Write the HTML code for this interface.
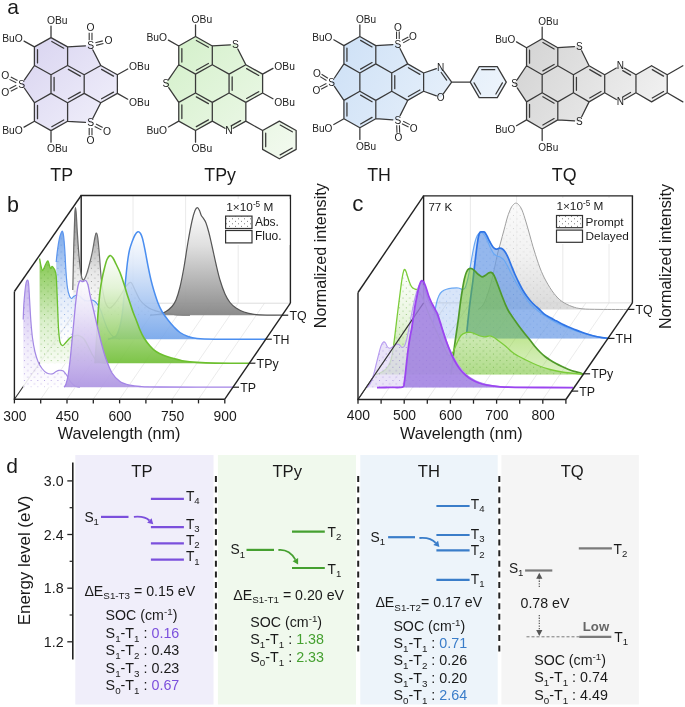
<!DOCTYPE html>
<html><head><meta charset="utf-8"><style>
html,body{margin:0;padding:0;background:#fff;}
svg{display:block;will-change:transform;}
text{font-family:"Liberation Sans", sans-serif;}
</style></head><body>
<svg width="685" height="707" viewBox="0 0 685 707">
<rect width="685" height="707" fill="#fff"/>
<defs>
<pattern id="dotsK" width="6.7" height="6.6" patternUnits="userSpaceOnUse"><circle cx="1" cy="1" r="0.5" fill="#555" fill-opacity="0.7"/><circle cx="4.35" cy="4.3" r="0.5" fill="#555" fill-opacity="0.7"/></pattern>
<pattern id="dotsB" width="6.7" height="6.6" patternUnits="userSpaceOnUse"><circle cx="1" cy="1" r="0.5" fill="#3a70d0" fill-opacity="0.7"/><circle cx="4.35" cy="4.3" r="0.5" fill="#3a70d0" fill-opacity="0.7"/></pattern>
<pattern id="dotsG" width="6.7" height="6.6" patternUnits="userSpaceOnUse"><circle cx="1" cy="1" r="0.5" fill="#4a9a20" fill-opacity="0.7"/><circle cx="4.35" cy="4.3" r="0.5" fill="#4a9a20" fill-opacity="0.7"/></pattern>
<pattern id="dotsP" width="6.7" height="6.6" patternUnits="userSpaceOnUse"><circle cx="1" cy="1" r="0.5" fill="#8060d0" fill-opacity="0.7"/><circle cx="4.35" cy="4.3" r="0.5" fill="#8060d0" fill-opacity="0.7"/></pattern>
<pattern id="dotsKL" width="6.7" height="6.6" patternUnits="userSpaceOnUse"><circle cx="1" cy="1" r="0.45" fill="#888" fill-opacity="0.6"/><circle cx="4.35" cy="4.3" r="0.45" fill="#888" fill-opacity="0.6"/></pattern>
<pattern id="dotsBL" width="6.7" height="6.6" patternUnits="userSpaceOnUse"><circle cx="1" cy="1" r="0.5" fill="#3a70d0" fill-opacity="0.35"/><circle cx="4.35" cy="4.3" r="0.5" fill="#3a70d0" fill-opacity="0.35"/></pattern>
<pattern id="dotsL" width="6" height="5" patternUnits="userSpaceOnUse"><circle cx="1.5" cy="1.2" r="0.5" fill="#555"/><circle cx="4.5" cy="3.7" r="0.5" fill="#555"/></pattern>
<linearGradient id="fK" x1="0" y1="0" x2="0" y2="1"><stop offset="0" stop-color="#ffffff"/><stop offset="0.35" stop-color="#dedede"/><stop offset="1" stop-color="#858585"/></linearGradient>
<linearGradient id="fB" x1="0" y1="0" x2="0" y2="1"><stop offset="0" stop-color="#ffffff"/><stop offset="0.3" stop-color="#dbe7f9"/><stop offset="1" stop-color="#6b9fe9"/></linearGradient>
<linearGradient id="fG" x1="0" y1="0" x2="0" y2="1"><stop offset="0" stop-color="#ffffff"/><stop offset="0.3" stop-color="#e0f2d2"/><stop offset="1" stop-color="#6fbe34"/></linearGradient>
<linearGradient id="fP" x1="0" y1="0" x2="0" y2="1"><stop offset="0" stop-color="#ffffff"/><stop offset="0.3" stop-color="#ebe4f8"/><stop offset="1" stop-color="#ae95e2"/></linearGradient>
<linearGradient id="aK" x1="0" y1="0" x2="0" y2="1"><stop offset="0" stop-color="#707070"/><stop offset="0.6" stop-color="#e6e6e6"/><stop offset="1" stop-color="#ffffff"/></linearGradient>
<linearGradient id="aB" x1="0" y1="0" x2="0" y2="1"><stop offset="0" stop-color="#6c9fe8"/><stop offset="0.6" stop-color="#dfe9f8"/><stop offset="1" stop-color="#ffffff"/></linearGradient>
<linearGradient id="aG" x1="0" y1="0" x2="0" y2="1"><stop offset="0" stop-color="#7cc444"/><stop offset="0.6" stop-color="#d8eec8"/><stop offset="1" stop-color="#f8fcf4"/></linearGradient>
<linearGradient id="aP" x1="0" y1="0" x2="0" y2="1"><stop offset="0" stop-color="#c0acec"/><stop offset="0.6" stop-color="#eee8fa"/><stop offset="1" stop-color="#ffffff"/></linearGradient>
<linearGradient id="cK" x1="0" y1="0" x2="0" y2="1"><stop offset="0" stop-color="#fafafa"/><stop offset="0.5" stop-color="#eeeeee"/><stop offset="1" stop-color="#d0d0d0"/></linearGradient>
<linearGradient id="cGd" x1="0" y1="0" x2="0" y2="1"><stop offset="0" stop-color="#74c810" stop-opacity="0.5"/><stop offset="0.65" stop-color="#74c810" stop-opacity="0.45"/><stop offset="1" stop-color="#8ad040" stop-opacity="0.3"/></linearGradient>
<linearGradient id="cGp" x1="0" y1="0" x2="0" y2="1"><stop offset="0" stop-color="#ffffff"/><stop offset="0.5" stop-color="#e2f2d4"/><stop offset="1" stop-color="#a4d67a"/></linearGradient>
</defs>
<line x1="133.0" y1="195.5" x2="133.0" y2="303.2" stroke="#e4e4e4" stroke-width="0.8"/>
<line x1="185.6" y1="195.5" x2="185.6" y2="303.2" stroke="#e4e4e4" stroke-width="0.8"/>
<line x1="238.2" y1="195.5" x2="238.2" y2="303.2" stroke="#e4e4e4" stroke-width="0.8"/>
<line x1="40.7" y1="399.2" x2="106.7" y2="303.2" stroke="#e2e2e2" stroke-width="0.7"/>
<line x1="67.0" y1="399.2" x2="133.0" y2="303.2" stroke="#e2e2e2" stroke-width="0.7"/>
<line x1="93.3" y1="399.2" x2="159.3" y2="303.2" stroke="#e2e2e2" stroke-width="0.7"/>
<line x1="119.6" y1="399.2" x2="185.6" y2="303.2" stroke="#e2e2e2" stroke-width="0.7"/>
<line x1="145.9" y1="399.2" x2="211.9" y2="303.2" stroke="#e2e2e2" stroke-width="0.7"/>
<line x1="172.2" y1="399.2" x2="238.2" y2="303.2" stroke="#e2e2e2" stroke-width="0.7"/>
<line x1="198.5" y1="399.2" x2="264.5" y2="303.2" stroke="#e2e2e2" stroke-width="0.7"/>
<line x1="81.2" y1="303.2" x2="290.4" y2="303.2" stroke="#dddddd" stroke-width="1"/>
<line x1="81.2" y1="195.5" x2="81.2" y2="303.2" stroke="#222" stroke-width="1.4"/>
<line x1="14.4" y1="399.2" x2="81.2" y2="303.2" stroke="#333" stroke-width="1.1"/>
<path d="M72.80,290.00 C72.97,282.50 73.47,257.67 73.80,245.00 C74.13,232.33 74.52,220.23 74.80,214.00 C75.08,207.77 75.25,207.60 75.50,207.60 C75.75,207.60 76.00,209.93 76.30,214.00 C76.60,218.07 76.85,225.00 77.30,232.00 C77.75,239.00 78.38,249.00 79.00,256.00 C79.62,263.00 80.33,270.00 81.00,274.00 C81.67,278.00 82.33,279.33 83.00,280.00 C83.67,280.67 84.33,279.17 85.00,278.00 C85.67,276.83 86.17,275.67 87.00,273.00 C87.83,270.33 89.08,265.67 90.00,262.00 C90.92,258.33 91.67,255.17 92.50,251.00 C93.33,246.83 94.35,240.00 95.00,237.00 C95.65,234.00 95.93,232.83 96.40,233.00 C96.87,233.17 97.28,234.17 97.80,238.00 C98.32,241.83 98.97,249.67 99.50,256.00 C100.03,262.33 100.42,270.00 101.00,276.00 C101.58,282.00 102.17,287.33 103.00,292.00 C103.83,296.67 104.83,301.33 106.00,304.00 C107.17,306.67 108.33,308.33 110.00,308.00 C111.67,307.67 114.00,304.50 116.00,302.00 C118.00,299.50 120.17,295.83 122.00,293.00 C123.83,290.17 125.50,286.75 127.00,285.00 C128.50,283.25 129.67,281.67 131.00,282.50 C132.33,283.33 133.50,287.08 135.00,290.00 C136.50,292.92 138.17,297.33 140.00,300.00 C141.83,302.67 144.00,304.42 146.00,306.00 C148.00,307.58 149.33,308.42 152.00,309.50 C154.67,310.58 158.17,311.65 162.00,312.50 C165.83,313.35 170.33,314.15 175.00,314.60 C179.67,315.05 187.50,315.10 190.00,315.20 L190.00,315.20 L72.80,315.20 Z" fill="url(#aK)" fill-opacity="0.9" stroke="none"/><path d="M72.80,290.00 C72.97,282.50 73.47,257.67 73.80,245.00 C74.13,232.33 74.52,220.23 74.80,214.00 C75.08,207.77 75.25,207.60 75.50,207.60 C75.75,207.60 76.00,209.93 76.30,214.00 C76.60,218.07 76.85,225.00 77.30,232.00 C77.75,239.00 78.38,249.00 79.00,256.00 C79.62,263.00 80.33,270.00 81.00,274.00 C81.67,278.00 82.33,279.33 83.00,280.00 C83.67,280.67 84.33,279.17 85.00,278.00 C85.67,276.83 86.17,275.67 87.00,273.00 C87.83,270.33 89.08,265.67 90.00,262.00 C90.92,258.33 91.67,255.17 92.50,251.00 C93.33,246.83 94.35,240.00 95.00,237.00 C95.65,234.00 95.93,232.83 96.40,233.00 C96.87,233.17 97.28,234.17 97.80,238.00 C98.32,241.83 98.97,249.67 99.50,256.00 C100.03,262.33 100.42,270.00 101.00,276.00 C101.58,282.00 102.17,287.33 103.00,292.00 C103.83,296.67 104.83,301.33 106.00,304.00 C107.17,306.67 108.33,308.33 110.00,308.00 C111.67,307.67 114.00,304.50 116.00,302.00 C118.00,299.50 120.17,295.83 122.00,293.00 C123.83,290.17 125.50,286.75 127.00,285.00 C128.50,283.25 129.67,281.67 131.00,282.50 C132.33,283.33 133.50,287.08 135.00,290.00 C136.50,292.92 138.17,297.33 140.00,300.00 C141.83,302.67 144.00,304.42 146.00,306.00 C148.00,307.58 149.33,308.42 152.00,309.50 C154.67,310.58 158.17,311.65 162.00,312.50 C165.83,313.35 170.33,314.15 175.00,314.60 C179.67,315.05 187.50,315.10 190.00,315.20 L190.00,315.20 L72.80,315.20 Z" fill="url(#dotsK)" stroke="none"/><path d="M72.80,290.00 C72.97,282.50 73.47,257.67 73.80,245.00 C74.13,232.33 74.52,220.23 74.80,214.00 C75.08,207.77 75.25,207.60 75.50,207.60 C75.75,207.60 76.00,209.93 76.30,214.00 C76.60,218.07 76.85,225.00 77.30,232.00 C77.75,239.00 78.38,249.00 79.00,256.00 C79.62,263.00 80.33,270.00 81.00,274.00 C81.67,278.00 82.33,279.33 83.00,280.00 C83.67,280.67 84.33,279.17 85.00,278.00 C85.67,276.83 86.17,275.67 87.00,273.00 C87.83,270.33 89.08,265.67 90.00,262.00 C90.92,258.33 91.67,255.17 92.50,251.00 C93.33,246.83 94.35,240.00 95.00,237.00 C95.65,234.00 95.93,232.83 96.40,233.00 C96.87,233.17 97.28,234.17 97.80,238.00 C98.32,241.83 98.97,249.67 99.50,256.00 C100.03,262.33 100.42,270.00 101.00,276.00 C101.58,282.00 102.17,287.33 103.00,292.00 C103.83,296.67 104.83,301.33 106.00,304.00 C107.17,306.67 108.33,308.33 110.00,308.00 C111.67,307.67 114.00,304.50 116.00,302.00 C118.00,299.50 120.17,295.83 122.00,293.00 C123.83,290.17 125.50,286.75 127.00,285.00 C128.50,283.25 129.67,281.67 131.00,282.50 C132.33,283.33 133.50,287.08 135.00,290.00 C136.50,292.92 138.17,297.33 140.00,300.00 C141.83,302.67 144.00,304.42 146.00,306.00 C148.00,307.58 149.33,308.42 152.00,309.50 C154.67,310.58 158.17,311.65 162.00,312.50 C165.83,313.35 170.33,314.15 175.00,314.60 C179.67,315.05 187.50,315.10 190.00,315.20" fill="none" stroke="#6a6a6a" stroke-width="1.2" stroke-linejoin="round"/>
<path d="M150.00,315.20 C151.67,315.00 157.33,314.62 160.00,314.00 C162.67,313.38 164.00,312.75 166.00,311.50 C168.00,310.25 170.33,308.42 172.00,306.50 C173.67,304.58 174.67,303.25 176.00,300.00 C177.33,296.75 178.67,292.50 180.00,287.00 C181.33,281.50 182.67,274.50 184.00,267.00 C185.33,259.50 186.67,249.67 188.00,242.00 C189.33,234.33 190.83,226.25 192.00,221.00 C193.17,215.75 194.10,212.73 195.00,210.50 C195.90,208.27 196.65,207.60 197.40,207.60 C198.15,207.60 198.85,209.18 199.50,210.50 C200.15,211.82 200.63,214.17 201.30,215.50 C201.97,216.83 202.72,217.25 203.50,218.50 C204.28,219.75 205.08,220.58 206.00,223.00 C206.92,225.42 208.00,229.17 209.00,233.00 C210.00,236.83 210.83,240.83 212.00,246.00 C213.17,251.17 214.67,258.33 216.00,264.00 C217.33,269.67 218.50,275.00 220.00,280.00 C221.50,285.00 223.33,290.25 225.00,294.00 C226.67,297.75 228.17,300.17 230.00,302.50 C231.83,304.83 233.67,306.42 236.00,308.00 C238.33,309.58 241.00,310.95 244.00,312.00 C247.00,313.05 250.00,313.78 254.00,314.30 C258.00,314.82 263.17,314.95 268.00,315.10 C272.83,315.25 280.50,315.18 283.00,315.20 L283.00,315.20 L150.00,315.20 Z" fill="url(#fK)" fill-opacity="0.95" stroke="none"/><path d="M150.00,315.20 C151.67,315.00 157.33,314.62 160.00,314.00 C162.67,313.38 164.00,312.75 166.00,311.50 C168.00,310.25 170.33,308.42 172.00,306.50 C173.67,304.58 174.67,303.25 176.00,300.00 C177.33,296.75 178.67,292.50 180.00,287.00 C181.33,281.50 182.67,274.50 184.00,267.00 C185.33,259.50 186.67,249.67 188.00,242.00 C189.33,234.33 190.83,226.25 192.00,221.00 C193.17,215.75 194.10,212.73 195.00,210.50 C195.90,208.27 196.65,207.60 197.40,207.60 C198.15,207.60 198.85,209.18 199.50,210.50 C200.15,211.82 200.63,214.17 201.30,215.50 C201.97,216.83 202.72,217.25 203.50,218.50 C204.28,219.75 205.08,220.58 206.00,223.00 C206.92,225.42 208.00,229.17 209.00,233.00 C210.00,236.83 210.83,240.83 212.00,246.00 C213.17,251.17 214.67,258.33 216.00,264.00 C217.33,269.67 218.50,275.00 220.00,280.00 C221.50,285.00 223.33,290.25 225.00,294.00 C226.67,297.75 228.17,300.17 230.00,302.50 C231.83,304.83 233.67,306.42 236.00,308.00 C238.33,309.58 241.00,310.95 244.00,312.00 C247.00,313.05 250.00,313.78 254.00,314.30 C258.00,314.82 263.17,314.95 268.00,315.10 C272.83,315.25 280.50,315.18 283.00,315.20" fill="none" stroke="#555" stroke-width="1.2" stroke-linejoin="round"/>
<path d="M56.20,262.00 C56.42,260.00 56.95,254.00 57.50,250.00 C58.05,246.00 58.87,240.92 59.50,238.00 C60.13,235.08 60.80,233.60 61.30,232.50 C61.80,231.40 62.12,230.82 62.50,231.40 C62.88,231.98 63.22,232.90 63.60,236.00 C63.98,239.10 64.40,244.00 64.80,250.00 C65.20,256.00 65.55,265.67 66.00,272.00 C66.45,278.33 66.92,284.00 67.50,288.00 C68.08,292.00 68.83,294.25 69.50,296.00 C70.17,297.75 70.75,298.45 71.50,298.50 C72.25,298.55 73.08,296.88 74.00,296.30 C74.92,295.72 76.00,294.97 77.00,295.00 C78.00,295.03 78.83,295.67 80.00,296.50 C81.17,297.33 82.67,299.25 84.00,300.00 C85.33,300.75 86.67,301.00 88.00,301.00 C89.33,301.00 90.83,299.92 92.00,300.00 C93.17,300.08 94.00,300.67 95.00,301.50 C96.00,302.33 97.00,303.42 98.00,305.00 C99.00,306.58 100.00,308.50 101.00,311.00 C102.00,313.50 102.83,316.83 104.00,320.00 C105.17,323.17 106.50,327.25 108.00,330.00 C109.50,332.75 111.00,334.97 113.00,336.50 C115.00,338.03 118.83,338.75 120.00,339.20 L120.00,339.20 L56.20,339.20 Z" fill="url(#aB)" fill-opacity="0.9" stroke="none"/><path d="M56.20,262.00 C56.42,260.00 56.95,254.00 57.50,250.00 C58.05,246.00 58.87,240.92 59.50,238.00 C60.13,235.08 60.80,233.60 61.30,232.50 C61.80,231.40 62.12,230.82 62.50,231.40 C62.88,231.98 63.22,232.90 63.60,236.00 C63.98,239.10 64.40,244.00 64.80,250.00 C65.20,256.00 65.55,265.67 66.00,272.00 C66.45,278.33 66.92,284.00 67.50,288.00 C68.08,292.00 68.83,294.25 69.50,296.00 C70.17,297.75 70.75,298.45 71.50,298.50 C72.25,298.55 73.08,296.88 74.00,296.30 C74.92,295.72 76.00,294.97 77.00,295.00 C78.00,295.03 78.83,295.67 80.00,296.50 C81.17,297.33 82.67,299.25 84.00,300.00 C85.33,300.75 86.67,301.00 88.00,301.00 C89.33,301.00 90.83,299.92 92.00,300.00 C93.17,300.08 94.00,300.67 95.00,301.50 C96.00,302.33 97.00,303.42 98.00,305.00 C99.00,306.58 100.00,308.50 101.00,311.00 C102.00,313.50 102.83,316.83 104.00,320.00 C105.17,323.17 106.50,327.25 108.00,330.00 C109.50,332.75 111.00,334.97 113.00,336.50 C115.00,338.03 118.83,338.75 120.00,339.20 L120.00,339.20 L56.20,339.20 Z" fill="url(#dotsB)" stroke="none"/><path d="M56.20,262.00 C56.42,260.00 56.95,254.00 57.50,250.00 C58.05,246.00 58.87,240.92 59.50,238.00 C60.13,235.08 60.80,233.60 61.30,232.50 C61.80,231.40 62.12,230.82 62.50,231.40 C62.88,231.98 63.22,232.90 63.60,236.00 C63.98,239.10 64.40,244.00 64.80,250.00 C65.20,256.00 65.55,265.67 66.00,272.00 C66.45,278.33 66.92,284.00 67.50,288.00 C68.08,292.00 68.83,294.25 69.50,296.00 C70.17,297.75 70.75,298.45 71.50,298.50 C72.25,298.55 73.08,296.88 74.00,296.30 C74.92,295.72 76.00,294.97 77.00,295.00 C78.00,295.03 78.83,295.67 80.00,296.50 C81.17,297.33 82.67,299.25 84.00,300.00 C85.33,300.75 86.67,301.00 88.00,301.00 C89.33,301.00 90.83,299.92 92.00,300.00 C93.17,300.08 94.00,300.67 95.00,301.50 C96.00,302.33 97.00,303.42 98.00,305.00 C99.00,306.58 100.00,308.50 101.00,311.00 C102.00,313.50 102.83,316.83 104.00,320.00 C105.17,323.17 106.50,327.25 108.00,330.00 C109.50,332.75 111.00,334.97 113.00,336.50 C115.00,338.03 118.83,338.75 120.00,339.20" fill="none" stroke="#5b95ee" stroke-width="1.2" stroke-linejoin="round"/>
<path d="M108.00,339.20 C109.33,338.67 114.00,338.20 116.00,336.00 C118.00,333.80 118.92,330.00 120.00,326.00 C121.08,322.00 121.83,317.00 122.50,312.00 C123.17,307.00 123.48,301.33 124.00,296.00 C124.52,290.67 125.02,285.67 125.60,280.00 C126.18,274.33 126.85,267.00 127.50,262.00 C128.15,257.00 128.75,253.33 129.50,250.00 C130.25,246.67 131.08,244.50 132.00,242.00 C132.92,239.50 134.00,236.70 135.00,235.00 C136.00,233.30 137.08,232.05 138.00,231.80 C138.92,231.55 139.75,232.38 140.50,233.50 C141.25,234.62 141.75,235.75 142.50,238.50 C143.25,241.25 144.08,245.42 145.00,250.00 C145.92,254.58 147.00,261.00 148.00,266.00 C149.00,271.00 150.00,275.83 151.00,280.00 C152.00,284.17 152.83,287.17 154.00,291.00 C155.17,294.83 156.67,299.58 158.00,303.00 C159.33,306.42 160.33,308.67 162.00,311.50 C163.67,314.33 166.00,317.42 168.00,320.00 C170.00,322.58 172.00,324.92 174.00,327.00 C176.00,329.08 177.67,330.92 180.00,332.50 C182.33,334.08 185.17,335.50 188.00,336.50 C190.83,337.50 192.50,338.05 197.00,338.50 C201.50,338.95 203.48,339.08 215.00,339.20 C226.52,339.32 257.58,339.20 266.10,339.20 L266.10,339.20 L108.00,339.20 Z" fill="url(#fB)" fill-opacity="0.86" stroke="none"/><path d="M108.00,339.20 C109.33,338.67 114.00,338.20 116.00,336.00 C118.00,333.80 118.92,330.00 120.00,326.00 C121.08,322.00 121.83,317.00 122.50,312.00 C123.17,307.00 123.48,301.33 124.00,296.00 C124.52,290.67 125.02,285.67 125.60,280.00 C126.18,274.33 126.85,267.00 127.50,262.00 C128.15,257.00 128.75,253.33 129.50,250.00 C130.25,246.67 131.08,244.50 132.00,242.00 C132.92,239.50 134.00,236.70 135.00,235.00 C136.00,233.30 137.08,232.05 138.00,231.80 C138.92,231.55 139.75,232.38 140.50,233.50 C141.25,234.62 141.75,235.75 142.50,238.50 C143.25,241.25 144.08,245.42 145.00,250.00 C145.92,254.58 147.00,261.00 148.00,266.00 C149.00,271.00 150.00,275.83 151.00,280.00 C152.00,284.17 152.83,287.17 154.00,291.00 C155.17,294.83 156.67,299.58 158.00,303.00 C159.33,306.42 160.33,308.67 162.00,311.50 C163.67,314.33 166.00,317.42 168.00,320.00 C170.00,322.58 172.00,324.92 174.00,327.00 C176.00,329.08 177.67,330.92 180.00,332.50 C182.33,334.08 185.17,335.50 188.00,336.50 C190.83,337.50 192.50,338.05 197.00,338.50 C201.50,338.95 203.48,339.08 215.00,339.20 C226.52,339.32 257.58,339.20 266.10,339.20" fill="none" stroke="#4a8ef0" stroke-width="1.5" stroke-linejoin="round"/>
<path d="M39.60,258.50 C39.83,259.75 40.52,264.00 41.00,266.00 C41.48,268.00 41.92,270.33 42.50,270.50 C43.08,270.67 43.83,268.33 44.50,267.00 C45.17,265.67 45.92,263.50 46.50,262.50 C47.08,261.50 47.53,260.58 48.00,261.00 C48.47,261.42 48.88,263.75 49.30,265.00 C49.72,266.25 50.05,268.28 50.50,268.50 C50.95,268.72 51.50,266.38 52.00,266.30 C52.50,266.22 53.00,267.30 53.50,268.00 C54.00,268.70 54.55,269.17 55.00,270.50 C55.45,271.83 55.87,272.42 56.20,276.00 C56.53,279.58 56.73,286.00 57.00,292.00 C57.27,298.00 57.53,305.67 57.80,312.00 C58.07,318.33 58.23,325.00 58.60,330.00 C58.97,335.00 59.35,339.40 60.00,342.00 C60.65,344.60 61.67,345.35 62.50,345.60 C63.33,345.85 64.08,344.43 65.00,343.50 C65.92,342.57 67.00,341.05 68.00,340.00 C69.00,338.95 69.67,337.95 71.00,337.20 C72.33,336.45 74.50,335.70 76.00,335.50 C77.50,335.30 78.67,335.42 80.00,336.00 C81.33,336.58 82.67,337.33 84.00,339.00 C85.33,340.67 86.67,343.50 88.00,346.00 C89.33,348.50 90.67,351.67 92.00,354.00 C93.33,356.33 94.67,358.58 96.00,360.00 C97.33,361.42 98.33,361.97 100.00,362.50 C101.67,363.03 105.00,363.08 106.00,363.20 L106.00,363.20 L39.60,363.20 Z" fill="url(#aG)" fill-opacity="0.95" stroke="none"/><path d="M39.60,258.50 C39.83,259.75 40.52,264.00 41.00,266.00 C41.48,268.00 41.92,270.33 42.50,270.50 C43.08,270.67 43.83,268.33 44.50,267.00 C45.17,265.67 45.92,263.50 46.50,262.50 C47.08,261.50 47.53,260.58 48.00,261.00 C48.47,261.42 48.88,263.75 49.30,265.00 C49.72,266.25 50.05,268.28 50.50,268.50 C50.95,268.72 51.50,266.38 52.00,266.30 C52.50,266.22 53.00,267.30 53.50,268.00 C54.00,268.70 54.55,269.17 55.00,270.50 C55.45,271.83 55.87,272.42 56.20,276.00 C56.53,279.58 56.73,286.00 57.00,292.00 C57.27,298.00 57.53,305.67 57.80,312.00 C58.07,318.33 58.23,325.00 58.60,330.00 C58.97,335.00 59.35,339.40 60.00,342.00 C60.65,344.60 61.67,345.35 62.50,345.60 C63.33,345.85 64.08,344.43 65.00,343.50 C65.92,342.57 67.00,341.05 68.00,340.00 C69.00,338.95 69.67,337.95 71.00,337.20 C72.33,336.45 74.50,335.70 76.00,335.50 C77.50,335.30 78.67,335.42 80.00,336.00 C81.33,336.58 82.67,337.33 84.00,339.00 C85.33,340.67 86.67,343.50 88.00,346.00 C89.33,348.50 90.67,351.67 92.00,354.00 C93.33,356.33 94.67,358.58 96.00,360.00 C97.33,361.42 98.33,361.97 100.00,362.50 C101.67,363.03 105.00,363.08 106.00,363.20 L106.00,363.20 L39.60,363.20 Z" fill="url(#dotsG)" stroke="none"/><path d="M39.60,258.50 C39.83,259.75 40.52,264.00 41.00,266.00 C41.48,268.00 41.92,270.33 42.50,270.50 C43.08,270.67 43.83,268.33 44.50,267.00 C45.17,265.67 45.92,263.50 46.50,262.50 C47.08,261.50 47.53,260.58 48.00,261.00 C48.47,261.42 48.88,263.75 49.30,265.00 C49.72,266.25 50.05,268.28 50.50,268.50 C50.95,268.72 51.50,266.38 52.00,266.30 C52.50,266.22 53.00,267.30 53.50,268.00 C54.00,268.70 54.55,269.17 55.00,270.50 C55.45,271.83 55.87,272.42 56.20,276.00 C56.53,279.58 56.73,286.00 57.00,292.00 C57.27,298.00 57.53,305.67 57.80,312.00 C58.07,318.33 58.23,325.00 58.60,330.00 C58.97,335.00 59.35,339.40 60.00,342.00 C60.65,344.60 61.67,345.35 62.50,345.60 C63.33,345.85 64.08,344.43 65.00,343.50 C65.92,342.57 67.00,341.05 68.00,340.00 C69.00,338.95 69.67,337.95 71.00,337.20 C72.33,336.45 74.50,335.70 76.00,335.50 C77.50,335.30 78.67,335.42 80.00,336.00 C81.33,336.58 82.67,337.33 84.00,339.00 C85.33,340.67 86.67,343.50 88.00,346.00 C89.33,348.50 90.67,351.67 92.00,354.00 C93.33,356.33 94.67,358.58 96.00,360.00 C97.33,361.42 98.33,361.97 100.00,362.50 C101.67,363.03 105.00,363.08 106.00,363.20" fill="none" stroke="#6cc030" stroke-width="1.3" stroke-linejoin="round"/>
<path d="M95.00,363.20 C95.25,359.33 96.13,346.20 96.50,340.00 C96.87,333.80 96.90,331.00 97.20,326.00 C97.50,321.00 97.83,315.67 98.30,310.00 C98.77,304.33 99.38,297.17 100.00,292.00 C100.62,286.83 101.25,283.00 102.00,279.00 C102.75,275.00 103.67,271.25 104.50,268.00 C105.33,264.75 106.08,261.57 107.00,259.50 C107.92,257.43 109.00,255.85 110.00,255.60 C111.00,255.35 112.00,256.60 113.00,258.00 C114.00,259.40 114.83,261.58 116.00,264.00 C117.17,266.42 118.67,269.17 120.00,272.50 C121.33,275.83 122.83,280.42 124.00,284.00 C125.17,287.58 126.00,290.83 127.00,294.00 C128.00,297.17 129.00,300.00 130.00,303.00 C131.00,306.00 132.00,309.25 133.00,312.00 C134.00,314.75 134.83,316.50 136.00,319.50 C137.17,322.50 138.67,326.92 140.00,330.00 C141.33,333.08 142.33,335.33 144.00,338.00 C145.67,340.67 148.00,343.75 150.00,346.00 C152.00,348.25 153.67,349.92 156.00,351.50 C158.33,353.08 161.33,354.42 164.00,355.50 C166.67,356.58 168.67,357.08 172.00,358.00 C175.33,358.92 179.83,360.27 184.00,361.00 C188.17,361.73 191.83,362.05 197.00,362.40 C202.17,362.75 206.27,362.97 215.00,363.10 C223.73,363.23 243.67,363.18 249.40,363.20 L249.40,363.20 L95.00,363.20 Z" fill="url(#fG)" fill-opacity="0.9" stroke="none"/><path d="M95.00,363.20 C95.25,359.33 96.13,346.20 96.50,340.00 C96.87,333.80 96.90,331.00 97.20,326.00 C97.50,321.00 97.83,315.67 98.30,310.00 C98.77,304.33 99.38,297.17 100.00,292.00 C100.62,286.83 101.25,283.00 102.00,279.00 C102.75,275.00 103.67,271.25 104.50,268.00 C105.33,264.75 106.08,261.57 107.00,259.50 C107.92,257.43 109.00,255.85 110.00,255.60 C111.00,255.35 112.00,256.60 113.00,258.00 C114.00,259.40 114.83,261.58 116.00,264.00 C117.17,266.42 118.67,269.17 120.00,272.50 C121.33,275.83 122.83,280.42 124.00,284.00 C125.17,287.58 126.00,290.83 127.00,294.00 C128.00,297.17 129.00,300.00 130.00,303.00 C131.00,306.00 132.00,309.25 133.00,312.00 C134.00,314.75 134.83,316.50 136.00,319.50 C137.17,322.50 138.67,326.92 140.00,330.00 C141.33,333.08 142.33,335.33 144.00,338.00 C145.67,340.67 148.00,343.75 150.00,346.00 C152.00,348.25 153.67,349.92 156.00,351.50 C158.33,353.08 161.33,354.42 164.00,355.50 C166.67,356.58 168.67,357.08 172.00,358.00 C175.33,358.92 179.83,360.27 184.00,361.00 C188.17,361.73 191.83,362.05 197.00,362.40 C202.17,362.75 206.27,362.97 215.00,363.10 C223.73,363.23 243.67,363.18 249.40,363.20" fill="none" stroke="#6cbf2e" stroke-width="1.6" stroke-linejoin="round"/>
<path d="M23.20,319.60 C23.30,317.17 23.55,309.27 23.80,305.00 C24.05,300.73 24.37,297.42 24.70,294.00 C25.03,290.58 25.37,286.82 25.80,284.50 C26.23,282.18 26.83,280.27 27.30,280.10 C27.77,279.93 28.22,280.18 28.60,283.50 C28.98,286.82 29.23,293.92 29.60,300.00 C29.97,306.08 30.32,313.67 30.80,320.00 C31.28,326.33 31.80,332.67 32.50,338.00 C33.20,343.33 34.08,348.08 35.00,352.00 C35.92,355.92 36.83,358.75 38.00,361.50 C39.17,364.25 40.53,366.58 42.00,368.50 C43.47,370.42 45.08,372.10 46.80,373.00 C48.52,373.90 50.77,374.15 52.30,373.90 C53.83,373.65 54.88,372.10 56.00,371.50 C57.12,370.90 57.78,370.38 59.00,370.30 C60.22,370.22 61.97,370.10 63.30,371.00 C64.63,371.90 65.77,373.87 67.00,375.70 C68.23,377.53 69.32,380.25 70.70,382.00 C72.08,383.75 73.75,385.33 75.30,386.20 C76.85,387.07 79.22,387.03 80.00,387.20 L80.00,387.20 L23.20,387.20 Z" fill="url(#aP)" fill-opacity="0.9" stroke="none"/><path d="M23.20,319.60 C23.30,317.17 23.55,309.27 23.80,305.00 C24.05,300.73 24.37,297.42 24.70,294.00 C25.03,290.58 25.37,286.82 25.80,284.50 C26.23,282.18 26.83,280.27 27.30,280.10 C27.77,279.93 28.22,280.18 28.60,283.50 C28.98,286.82 29.23,293.92 29.60,300.00 C29.97,306.08 30.32,313.67 30.80,320.00 C31.28,326.33 31.80,332.67 32.50,338.00 C33.20,343.33 34.08,348.08 35.00,352.00 C35.92,355.92 36.83,358.75 38.00,361.50 C39.17,364.25 40.53,366.58 42.00,368.50 C43.47,370.42 45.08,372.10 46.80,373.00 C48.52,373.90 50.77,374.15 52.30,373.90 C53.83,373.65 54.88,372.10 56.00,371.50 C57.12,370.90 57.78,370.38 59.00,370.30 C60.22,370.22 61.97,370.10 63.30,371.00 C64.63,371.90 65.77,373.87 67.00,375.70 C68.23,377.53 69.32,380.25 70.70,382.00 C72.08,383.75 73.75,385.33 75.30,386.20 C76.85,387.07 79.22,387.03 80.00,387.20 L80.00,387.20 L23.20,387.20 Z" fill="url(#dotsP)" stroke="none"/><path d="M23.20,319.60 C23.30,317.17 23.55,309.27 23.80,305.00 C24.05,300.73 24.37,297.42 24.70,294.00 C25.03,290.58 25.37,286.82 25.80,284.50 C26.23,282.18 26.83,280.27 27.30,280.10 C27.77,279.93 28.22,280.18 28.60,283.50 C28.98,286.82 29.23,293.92 29.60,300.00 C29.97,306.08 30.32,313.67 30.80,320.00 C31.28,326.33 31.80,332.67 32.50,338.00 C33.20,343.33 34.08,348.08 35.00,352.00 C35.92,355.92 36.83,358.75 38.00,361.50 C39.17,364.25 40.53,366.58 42.00,368.50 C43.47,370.42 45.08,372.10 46.80,373.00 C48.52,373.90 50.77,374.15 52.30,373.90 C53.83,373.65 54.88,372.10 56.00,371.50 C57.12,370.90 57.78,370.38 59.00,370.30 C60.22,370.22 61.97,370.10 63.30,371.00 C64.63,371.90 65.77,373.87 67.00,375.70 C68.23,377.53 69.32,380.25 70.70,382.00 C72.08,383.75 73.75,385.33 75.30,386.20 C76.85,387.07 79.22,387.03 80.00,387.20" fill="none" stroke="#a388e4" stroke-width="1.2" stroke-linejoin="round"/>
<path d="M64.20,387.20 C64.50,386.67 65.37,385.87 66.00,384.00 C66.63,382.13 67.33,379.83 68.00,376.00 C68.67,372.17 69.33,366.83 70.00,361.00 C70.67,355.17 71.33,347.83 72.00,341.00 C72.67,334.17 73.33,326.83 74.00,320.00 C74.67,313.17 75.33,305.67 76.00,300.00 C76.67,294.33 77.33,289.20 78.00,286.00 C78.67,282.80 79.33,281.55 80.00,280.80 C80.67,280.05 81.33,281.43 82.00,281.50 C82.67,281.57 83.33,281.35 84.00,281.20 C84.67,281.05 85.33,279.97 86.00,280.60 C86.67,281.23 87.33,282.60 88.00,285.00 C88.67,287.40 89.00,290.50 90.00,295.00 C91.00,299.50 92.67,306.25 94.00,312.00 C95.33,317.75 96.67,323.92 98.00,329.50 C99.33,335.08 100.67,340.58 102.00,345.50 C103.33,350.42 104.33,354.42 106.00,359.00 C107.67,363.58 109.67,369.25 112.00,373.00 C114.33,376.75 117.00,379.47 120.00,381.50 C123.00,383.53 126.67,384.37 130.00,385.20 C133.33,386.03 135.00,386.20 140.00,386.50 C145.00,386.80 144.48,386.88 160.00,387.00 C175.52,387.12 220.92,387.17 233.10,387.20 L233.10,387.20 L64.20,387.20 Z" fill="url(#fP)" fill-opacity="0.92" stroke="none"/><path d="M64.20,387.20 C64.50,386.67 65.37,385.87 66.00,384.00 C66.63,382.13 67.33,379.83 68.00,376.00 C68.67,372.17 69.33,366.83 70.00,361.00 C70.67,355.17 71.33,347.83 72.00,341.00 C72.67,334.17 73.33,326.83 74.00,320.00 C74.67,313.17 75.33,305.67 76.00,300.00 C76.67,294.33 77.33,289.20 78.00,286.00 C78.67,282.80 79.33,281.55 80.00,280.80 C80.67,280.05 81.33,281.43 82.00,281.50 C82.67,281.57 83.33,281.35 84.00,281.20 C84.67,281.05 85.33,279.97 86.00,280.60 C86.67,281.23 87.33,282.60 88.00,285.00 C88.67,287.40 89.00,290.50 90.00,295.00 C91.00,299.50 92.67,306.25 94.00,312.00 C95.33,317.75 96.67,323.92 98.00,329.50 C99.33,335.08 100.67,340.58 102.00,345.50 C103.33,350.42 104.33,354.42 106.00,359.00 C107.67,363.58 109.67,369.25 112.00,373.00 C114.33,376.75 117.00,379.47 120.00,381.50 C123.00,383.53 126.67,384.37 130.00,385.20 C133.33,386.03 135.00,386.20 140.00,386.50 C145.00,386.80 144.48,386.88 160.00,387.00 C175.52,387.12 220.92,387.17 233.10,387.20" fill="none" stroke="#a383e6" stroke-width="1.3" stroke-linejoin="round"/>
<line x1="14.4" y1="291.5" x2="14.4" y2="399.2" stroke="#222" stroke-width="1.4"/>
<line x1="14.4" y1="291.5" x2="81.2" y2="195.5" stroke="#222" stroke-width="1.4"/>
<line x1="80.5" y1="195.5" x2="291.09999999999997" y2="195.5" stroke="#222" stroke-width="1.4"/>
<line x1="290.4" y1="195.5" x2="290.4" y2="303.2" stroke="#222" stroke-width="1.4"/>
<line x1="13.700000000000001" y1="399.2" x2="224.8" y2="399.2" stroke="#222" stroke-width="1.4"/>
<line x1="224.8" y1="399.2" x2="290.4" y2="303.2" stroke="#222" stroke-width="1.4"/>
<line x1="14.4" y1="399.2" x2="14.4" y2="403.4" stroke="#222" stroke-width="1.3"/>
<text x="14.8" y="421.0" font-size="13.9" text-anchor="middle" fill="#1a1a1a" >300</text>
<line x1="40.7" y1="399.2" x2="40.7" y2="403.4" stroke="#222" stroke-width="1.3"/>
<line x1="67.0" y1="399.2" x2="67.0" y2="403.4" stroke="#222" stroke-width="1.3"/>
<text x="67.4" y="421.0" font-size="13.9" text-anchor="middle" fill="#1a1a1a" >450</text>
<line x1="93.3" y1="399.2" x2="93.3" y2="403.4" stroke="#222" stroke-width="1.3"/>
<line x1="119.6" y1="399.2" x2="119.6" y2="403.4" stroke="#222" stroke-width="1.3"/>
<text x="120.0" y="421.0" font-size="13.9" text-anchor="middle" fill="#1a1a1a" >600</text>
<line x1="145.9" y1="399.2" x2="145.9" y2="403.4" stroke="#222" stroke-width="1.3"/>
<line x1="172.2" y1="399.2" x2="172.2" y2="403.4" stroke="#222" stroke-width="1.3"/>
<text x="172.6" y="421.0" font-size="13.9" text-anchor="middle" fill="#1a1a1a" >750</text>
<line x1="198.5" y1="399.2" x2="198.5" y2="403.4" stroke="#222" stroke-width="1.3"/>
<line x1="224.8" y1="399.2" x2="224.8" y2="403.4" stroke="#222" stroke-width="1.3"/>
<text x="225.2" y="421.0" font-size="13.9" text-anchor="middle" fill="#1a1a1a" >900</text>
<text x="119.1" y="438.5" font-size="16.2" text-anchor="middle" fill="#1a1a1a" >Wavelength (nm)</text>
<line x1="233.0" y1="387.2" x2="239.0" y2="387.2" stroke="#222" stroke-width="1.2"/>
<text x="240.2" y="391.6" font-size="12.4" text-anchor="start" fill="#1a1a1a" >TP</text>
<line x1="249.4" y1="363.2" x2="255.4" y2="363.2" stroke="#222" stroke-width="1.2"/>
<text x="256.6" y="367.6" font-size="12.4" text-anchor="start" fill="#1a1a1a" >TPy</text>
<line x1="265.8" y1="339.2" x2="271.8" y2="339.2" stroke="#222" stroke-width="1.2"/>
<text x="273.0" y="343.6" font-size="12.4" text-anchor="start" fill="#1a1a1a" >TH</text>
<line x1="282.2" y1="315.2" x2="288.2" y2="315.2" stroke="#222" stroke-width="1.2"/>
<text x="289.4" y="319.6" font-size="12.4" text-anchor="start" fill="#1a1a1a" >TQ</text>
<text transform="translate(326.3,255.7) rotate(-90)" font-size="16.1" text-anchor="middle" fill="#1a1a1a">Normalized intensity</text>
<rect x="223.5" y="199" width="66" height="46" fill="#fff"/>
<text x="226.3" y="211" font-size="11.8" fill="#1a1a1a">1×10<tspan font-size="8.2" dy="-4.2">-5</tspan><tspan dy="4.2"> M</tspan></text>
<rect x="225.6" y="216.1" width="26.4" height="12.4" fill="#fff" stroke="#333" stroke-width="1.2"/>
<rect x="225.6" y="216.1" width="26.4" height="12.4" fill="url(#dotsL)"/>
<rect x="225.6" y="230.5" width="26.4" height="12.4" fill="#fff" stroke="#333" stroke-width="1.2"/>
<text x="254.9" y="225.9" font-size="12.0" text-anchor="start" fill="#1a1a1a" >Abs.</text>
<text x="254.9" y="240.4" font-size="12.0" text-anchor="start" fill="#1a1a1a" >Fluo.</text>
<text x="7.0" y="211.5" font-size="21.5" text-anchor="start" fill="#1a1a1a" >b</text>
<line x1="470.4" y1="195.9" x2="470.4" y2="302.9" stroke="#e4e4e4" stroke-width="0.8"/>
<line x1="516.6" y1="195.9" x2="516.6" y2="302.9" stroke="#e4e4e4" stroke-width="0.8"/>
<line x1="562.8" y1="195.9" x2="562.8" y2="302.9" stroke="#e4e4e4" stroke-width="0.8"/>
<line x1="609.0" y1="195.9" x2="609.0" y2="302.9" stroke="#e4e4e4" stroke-width="0.8"/>
<line x1="381.1" y1="399.5" x2="447.3" y2="302.9" stroke="#e2e2e2" stroke-width="0.7"/>
<line x1="404.2" y1="399.5" x2="470.4" y2="302.9" stroke="#e2e2e2" stroke-width="0.7"/>
<line x1="427.3" y1="399.5" x2="493.5" y2="302.9" stroke="#e2e2e2" stroke-width="0.7"/>
<line x1="450.4" y1="399.5" x2="516.6" y2="302.9" stroke="#e2e2e2" stroke-width="0.7"/>
<line x1="473.5" y1="399.5" x2="539.7" y2="302.9" stroke="#e2e2e2" stroke-width="0.7"/>
<line x1="496.6" y1="399.5" x2="562.8" y2="302.9" stroke="#e2e2e2" stroke-width="0.7"/>
<line x1="519.7" y1="399.5" x2="585.9" y2="302.9" stroke="#e2e2e2" stroke-width="0.7"/>
<line x1="542.8" y1="399.5" x2="609.0" y2="302.9" stroke="#e2e2e2" stroke-width="0.7"/>
<line x1="423.6" y1="302.9" x2="632.4" y2="302.9" stroke="#dddddd" stroke-width="1"/>
<line x1="423.6" y1="195.9" x2="423.6" y2="302.9" stroke="#222" stroke-width="1.4"/>
<line x1="358.0" y1="399.5" x2="423.6" y2="302.9" stroke="#333" stroke-width="1.1"/>
<path d="M478.00,309.50 C478.83,308.75 481.50,307.25 483.00,305.00 C484.50,302.75 485.67,299.67 487.00,296.00 C488.33,292.33 489.75,287.67 491.00,283.00 C492.25,278.33 493.42,272.83 494.50,268.00 C495.58,263.17 496.50,258.17 497.50,254.00 C498.50,249.83 499.42,247.00 500.50,243.00 C501.58,239.00 502.83,234.33 504.00,230.00 C505.17,225.67 506.33,220.67 507.50,217.00 C508.67,213.33 509.92,210.17 511.00,208.00 C512.08,205.83 513.17,204.80 514.00,204.00 C514.83,203.20 515.25,203.12 516.00,203.20 C516.75,203.28 517.50,203.37 518.50,204.50 C519.50,205.63 520.75,207.08 522.00,210.00 C523.25,212.92 524.67,217.67 526.00,222.00 C527.33,226.33 528.67,231.33 530.00,236.00 C531.33,240.67 532.33,244.67 534.00,250.00 C535.67,255.33 538.00,262.83 540.00,268.00 C542.00,273.17 543.67,276.75 546.00,281.00 C548.33,285.25 551.33,290.08 554.00,293.50 C556.67,296.92 559.00,299.33 562.00,301.50 C565.00,303.67 568.67,305.28 572.00,306.50 C575.33,307.72 577.33,308.32 582.00,308.80 C586.67,309.28 592.17,309.28 600.00,309.40 C607.83,309.52 624.17,309.48 629.00,309.50 L629.00,309.50 L478.00,309.50 Z" fill="url(#cK)" fill-opacity="0.8" stroke="none"/><path d="M478.00,309.50 C478.83,308.75 481.50,307.25 483.00,305.00 C484.50,302.75 485.67,299.67 487.00,296.00 C488.33,292.33 489.75,287.67 491.00,283.00 C492.25,278.33 493.42,272.83 494.50,268.00 C495.58,263.17 496.50,258.17 497.50,254.00 C498.50,249.83 499.42,247.00 500.50,243.00 C501.58,239.00 502.83,234.33 504.00,230.00 C505.17,225.67 506.33,220.67 507.50,217.00 C508.67,213.33 509.92,210.17 511.00,208.00 C512.08,205.83 513.17,204.80 514.00,204.00 C514.83,203.20 515.25,203.12 516.00,203.20 C516.75,203.28 517.50,203.37 518.50,204.50 C519.50,205.63 520.75,207.08 522.00,210.00 C523.25,212.92 524.67,217.67 526.00,222.00 C527.33,226.33 528.67,231.33 530.00,236.00 C531.33,240.67 532.33,244.67 534.00,250.00 C535.67,255.33 538.00,262.83 540.00,268.00 C542.00,273.17 543.67,276.75 546.00,281.00 C548.33,285.25 551.33,290.08 554.00,293.50 C556.67,296.92 559.00,299.33 562.00,301.50 C565.00,303.67 568.67,305.28 572.00,306.50 C575.33,307.72 577.33,308.32 582.00,308.80 C586.67,309.28 592.17,309.28 600.00,309.40 C607.83,309.52 624.17,309.48 629.00,309.50 L629.00,309.50 L478.00,309.50 Z" fill="url(#dotsKL)" stroke="none"/><path d="M478.00,309.50 C478.83,308.75 481.50,307.25 483.00,305.00 C484.50,302.75 485.67,299.67 487.00,296.00 C488.33,292.33 489.75,287.67 491.00,283.00 C492.25,278.33 493.42,272.83 494.50,268.00 C495.58,263.17 496.50,258.17 497.50,254.00 C498.50,249.83 499.42,247.00 500.50,243.00 C501.58,239.00 502.83,234.33 504.00,230.00 C505.17,225.67 506.33,220.67 507.50,217.00 C508.67,213.33 509.92,210.17 511.00,208.00 C512.08,205.83 513.17,204.80 514.00,204.00 C514.83,203.20 515.25,203.12 516.00,203.20 C516.75,203.28 517.50,203.37 518.50,204.50 C519.50,205.63 520.75,207.08 522.00,210.00 C523.25,212.92 524.67,217.67 526.00,222.00 C527.33,226.33 528.67,231.33 530.00,236.00 C531.33,240.67 532.33,244.67 534.00,250.00 C535.67,255.33 538.00,262.83 540.00,268.00 C542.00,273.17 543.67,276.75 546.00,281.00 C548.33,285.25 551.33,290.08 554.00,293.50 C556.67,296.92 559.00,299.33 562.00,301.50 C565.00,303.67 568.67,305.28 572.00,306.50 C575.33,307.72 577.33,308.32 582.00,308.80 C586.67,309.28 592.17,309.28 600.00,309.40 C607.83,309.52 624.17,309.48 629.00,309.50" fill="none" stroke="#a0a0a0" stroke-width="1.0" stroke-linejoin="round"/>
<path d="M466.00,338.40 C466.17,337.00 466.50,334.57 467.00,330.00 C467.50,325.43 468.33,316.83 469.00,311.00 C469.67,305.17 470.33,300.17 471.00,295.00 C471.67,289.83 472.33,285.50 473.00,280.00 C473.67,274.50 474.33,267.67 475.00,262.00 C475.67,256.33 476.40,250.33 477.00,246.00 C477.60,241.67 478.13,238.27 478.60,236.00 C479.07,233.73 479.32,233.08 479.80,232.40 C480.28,231.72 480.88,231.98 481.50,231.90 C482.12,231.82 482.92,231.78 483.50,231.90 C484.08,232.02 484.42,231.92 485.00,232.60 C485.58,233.28 486.17,234.43 487.00,236.00 C487.83,237.57 489.00,240.17 490.00,242.00 C491.00,243.83 492.00,245.80 493.00,247.00 C494.00,248.20 494.92,249.00 496.00,249.20 C497.08,249.40 498.42,248.23 499.50,248.20 C500.58,248.17 501.50,248.28 502.50,249.00 C503.50,249.72 504.50,250.92 505.50,252.50 C506.50,254.08 507.50,256.25 508.50,258.50 C509.50,260.75 510.42,263.33 511.50,266.00 C512.58,268.67 513.75,271.67 515.00,274.50 C516.25,277.33 517.67,280.33 519.00,283.00 C520.33,285.67 521.67,288.25 523.00,290.50 C524.33,292.75 525.67,294.67 527.00,296.50 C528.33,298.33 529.67,300.00 531.00,301.50 C532.33,303.00 533.67,304.25 535.00,305.50 C536.33,306.75 537.50,307.62 539.00,309.00 C540.50,310.38 542.17,312.38 544.00,313.80 C545.83,315.22 548.00,316.33 550.00,317.50 C552.00,318.67 554.00,319.72 556.00,320.80 C558.00,321.88 560.00,323.00 562.00,324.00 C564.00,325.00 566.00,325.92 568.00,326.80 C570.00,327.68 572.00,328.52 574.00,329.30 C576.00,330.08 577.67,330.67 580.00,331.50 C582.33,332.33 585.33,333.47 588.00,334.30 C590.67,335.13 593.67,335.95 596.00,336.50 C598.33,337.05 599.90,337.28 602.00,337.60 C604.10,337.92 607.50,338.27 608.60,338.40 L608.60,338.40 L466.00,338.40 Z" fill="#6396e4" fill-opacity="0.62" stroke="none"/>
<path d="M430.50,338.40 C430.83,336.67 431.83,332.07 432.50,328.00 C433.17,323.93 433.83,318.17 434.50,314.00 C435.17,309.83 435.75,306.08 436.50,303.00 C437.25,299.92 438.08,297.42 439.00,295.50 C439.92,293.58 440.75,292.55 442.00,291.50 C443.25,290.45 444.83,289.75 446.50,289.20 C448.17,288.65 450.02,288.40 452.00,288.20 C453.98,288.00 456.73,287.80 458.40,288.00 C460.07,288.20 460.90,289.40 462.00,289.40 C463.10,289.40 464.08,289.57 465.00,288.00 C465.92,286.43 466.67,283.33 467.50,280.00 C468.33,276.67 469.17,272.33 470.00,268.00 C470.83,263.67 471.67,258.33 472.50,254.00 C473.33,249.67 474.20,245.08 475.00,242.00 C475.80,238.92 476.55,236.97 477.30,235.50 C478.05,234.03 478.63,233.62 479.50,233.20 C480.37,232.78 481.58,232.53 482.50,233.00 C483.42,233.47 484.08,234.50 485.00,236.00 C485.92,237.50 487.00,239.83 488.00,242.00 C489.00,244.17 490.00,247.00 491.00,249.00 C492.00,251.00 493.00,252.83 494.00,254.00 C495.00,255.17 495.92,255.47 497.00,256.00 C498.08,256.53 499.33,256.53 500.50,257.20 C501.67,257.87 502.75,258.37 504.00,260.00 C505.25,261.63 506.67,264.50 508.00,267.00 C509.33,269.50 510.50,272.17 512.00,275.00 C513.50,277.83 515.17,280.83 517.00,284.00 C518.83,287.17 520.83,290.75 523.00,294.00 C525.17,297.25 527.67,300.83 530.00,303.50 C532.33,306.17 534.50,307.92 537.00,310.00 C539.50,312.08 542.00,314.00 545.00,316.00 C548.00,318.00 551.50,320.12 555.00,322.00 C558.50,323.88 562.17,325.67 566.00,327.30 C569.83,328.93 574.00,330.48 578.00,331.80 C582.00,333.12 586.33,334.30 590.00,335.20 C593.67,336.10 596.90,336.67 600.00,337.20 C603.10,337.73 607.17,338.20 608.60,338.40 L608.60,338.40 L430.50,338.40 Z" fill="#7fa8ea" fill-opacity="0.3" stroke="none"/><path d="M430.50,338.40 C430.83,336.67 431.83,332.07 432.50,328.00 C433.17,323.93 433.83,318.17 434.50,314.00 C435.17,309.83 435.75,306.08 436.50,303.00 C437.25,299.92 438.08,297.42 439.00,295.50 C439.92,293.58 440.75,292.55 442.00,291.50 C443.25,290.45 444.83,289.75 446.50,289.20 C448.17,288.65 450.02,288.40 452.00,288.20 C453.98,288.00 456.73,287.80 458.40,288.00 C460.07,288.20 460.90,289.40 462.00,289.40 C463.10,289.40 464.08,289.57 465.00,288.00 C465.92,286.43 466.67,283.33 467.50,280.00 C468.33,276.67 469.17,272.33 470.00,268.00 C470.83,263.67 471.67,258.33 472.50,254.00 C473.33,249.67 474.20,245.08 475.00,242.00 C475.80,238.92 476.55,236.97 477.30,235.50 C478.05,234.03 478.63,233.62 479.50,233.20 C480.37,232.78 481.58,232.53 482.50,233.00 C483.42,233.47 484.08,234.50 485.00,236.00 C485.92,237.50 487.00,239.83 488.00,242.00 C489.00,244.17 490.00,247.00 491.00,249.00 C492.00,251.00 493.00,252.83 494.00,254.00 C495.00,255.17 495.92,255.47 497.00,256.00 C498.08,256.53 499.33,256.53 500.50,257.20 C501.67,257.87 502.75,258.37 504.00,260.00 C505.25,261.63 506.67,264.50 508.00,267.00 C509.33,269.50 510.50,272.17 512.00,275.00 C513.50,277.83 515.17,280.83 517.00,284.00 C518.83,287.17 520.83,290.75 523.00,294.00 C525.17,297.25 527.67,300.83 530.00,303.50 C532.33,306.17 534.50,307.92 537.00,310.00 C539.50,312.08 542.00,314.00 545.00,316.00 C548.00,318.00 551.50,320.12 555.00,322.00 C558.50,323.88 562.17,325.67 566.00,327.30 C569.83,328.93 574.00,330.48 578.00,331.80 C582.00,333.12 586.33,334.30 590.00,335.20 C593.67,336.10 596.90,336.67 600.00,337.20 C603.10,337.73 607.17,338.20 608.60,338.40 L608.60,338.40 L430.50,338.40 Z" fill="url(#dotsBL)" stroke="none"/>
<path d="M430.50,338.40 C430.83,336.67 431.83,332.07 432.50,328.00 C433.17,323.93 433.83,318.17 434.50,314.00 C435.17,309.83 435.75,306.08 436.50,303.00 C437.25,299.92 438.08,297.42 439.00,295.50 C439.92,293.58 440.75,292.55 442.00,291.50 C443.25,290.45 444.83,289.75 446.50,289.20 C448.17,288.65 450.02,288.40 452.00,288.20 C453.98,288.00 456.73,287.80 458.40,288.00 C460.07,288.20 460.90,289.40 462.00,289.40 C463.10,289.40 464.08,289.57 465.00,288.00 C465.92,286.43 466.67,283.33 467.50,280.00 C468.33,276.67 469.17,272.33 470.00,268.00 C470.83,263.67 471.67,258.33 472.50,254.00 C473.33,249.67 474.20,245.08 475.00,242.00 C475.80,238.92 476.55,236.97 477.30,235.50 C478.05,234.03 478.63,233.62 479.50,233.20 C480.37,232.78 481.58,232.53 482.50,233.00 C483.42,233.47 484.08,234.50 485.00,236.00 C485.92,237.50 487.00,239.83 488.00,242.00 C489.00,244.17 490.00,247.00 491.00,249.00 C492.00,251.00 493.00,252.83 494.00,254.00 C495.00,255.17 495.92,255.47 497.00,256.00 C498.08,256.53 499.33,256.53 500.50,257.20 C501.67,257.87 502.75,258.37 504.00,260.00 C505.25,261.63 506.67,264.50 508.00,267.00 C509.33,269.50 510.50,272.17 512.00,275.00 C513.50,277.83 515.17,280.83 517.00,284.00 C518.83,287.17 520.83,290.75 523.00,294.00 C525.17,297.25 527.67,300.83 530.00,303.50 C532.33,306.17 534.50,307.92 537.00,310.00 C539.50,312.08 542.00,314.00 545.00,316.00 C548.00,318.00 551.50,320.12 555.00,322.00 C558.50,323.88 562.17,325.67 566.00,327.30 C569.83,328.93 574.00,330.48 578.00,331.80 C582.00,333.12 586.33,334.30 590.00,335.20 C593.67,336.10 596.90,336.67 600.00,337.20 C603.10,337.73 607.17,338.20 608.60,338.40" fill="none" stroke="#69a8f4" stroke-width="1.2" stroke-linejoin="round"/>
<path d="M466.00,338.40 C466.17,337.00 466.50,334.57 467.00,330.00 C467.50,325.43 468.33,316.83 469.00,311.00 C469.67,305.17 470.33,300.17 471.00,295.00 C471.67,289.83 472.33,285.50 473.00,280.00 C473.67,274.50 474.33,267.67 475.00,262.00 C475.67,256.33 476.40,250.33 477.00,246.00 C477.60,241.67 478.13,238.27 478.60,236.00 C479.07,233.73 479.32,233.08 479.80,232.40 C480.28,231.72 480.88,231.98 481.50,231.90 C482.12,231.82 482.92,231.78 483.50,231.90 C484.08,232.02 484.42,231.92 485.00,232.60 C485.58,233.28 486.17,234.43 487.00,236.00 C487.83,237.57 489.00,240.17 490.00,242.00 C491.00,243.83 492.00,245.80 493.00,247.00 C494.00,248.20 494.92,249.00 496.00,249.20 C497.08,249.40 498.42,248.23 499.50,248.20 C500.58,248.17 501.50,248.28 502.50,249.00 C503.50,249.72 504.50,250.92 505.50,252.50 C506.50,254.08 507.50,256.25 508.50,258.50 C509.50,260.75 510.42,263.33 511.50,266.00 C512.58,268.67 513.75,271.67 515.00,274.50 C516.25,277.33 517.67,280.33 519.00,283.00 C520.33,285.67 521.67,288.25 523.00,290.50 C524.33,292.75 525.67,294.67 527.00,296.50 C528.33,298.33 529.67,300.00 531.00,301.50 C532.33,303.00 533.67,304.25 535.00,305.50 C536.33,306.75 537.50,307.62 539.00,309.00 C540.50,310.38 542.17,312.38 544.00,313.80 C545.83,315.22 548.00,316.33 550.00,317.50 C552.00,318.67 554.00,319.72 556.00,320.80 C558.00,321.88 560.00,323.00 562.00,324.00 C564.00,325.00 566.00,325.92 568.00,326.80 C570.00,327.68 572.00,328.52 574.00,329.30 C576.00,330.08 577.67,330.67 580.00,331.50 C582.33,332.33 585.33,333.47 588.00,334.30 C590.67,335.13 593.67,335.95 596.00,336.50 C598.33,337.05 599.90,337.28 602.00,337.60 C604.10,337.92 607.50,338.27 608.60,338.40" fill="none" stroke="#2f74e6" stroke-width="1.7" stroke-linejoin="round"/>
<path d="M451.00,374.50 C451.25,372.42 451.92,366.75 452.50,362.00 C453.08,357.25 453.83,351.00 454.50,346.00 C455.17,341.00 455.83,336.67 456.50,332.00 C457.17,327.33 457.83,323.00 458.50,318.00 C459.17,313.00 459.83,306.83 460.50,302.00 C461.17,297.17 461.83,292.92 462.50,289.00 C463.17,285.08 463.83,281.33 464.50,278.50 C465.17,275.67 465.75,273.62 466.50,272.00 C467.25,270.38 468.08,269.33 469.00,268.80 C469.92,268.27 471.00,268.40 472.00,268.80 C473.00,269.20 473.92,270.25 475.00,271.20 C476.08,272.15 477.33,273.57 478.50,274.50 C479.67,275.43 480.83,276.68 482.00,276.80 C483.17,276.92 484.42,275.83 485.50,275.20 C486.58,274.57 487.58,273.47 488.50,273.00 C489.42,272.53 490.17,272.15 491.00,272.40 C491.83,272.65 492.67,273.23 493.50,274.50 C494.33,275.77 495.08,277.75 496.00,280.00 C496.92,282.25 498.00,285.33 499.00,288.00 C500.00,290.67 501.00,293.42 502.00,296.00 C503.00,298.58 504.00,301.17 505.00,303.50 C506.00,305.83 506.92,308.00 508.00,310.00 C509.08,312.00 510.33,313.75 511.50,315.50 C512.67,317.25 513.58,318.50 515.00,320.50 C516.42,322.50 518.33,325.25 520.00,327.50 C521.67,329.75 523.33,331.92 525.00,334.00 C526.67,336.08 528.33,337.92 530.00,340.00 C531.67,342.08 533.33,344.50 535.00,346.50 C536.67,348.50 538.33,350.33 540.00,352.00 C541.67,353.67 543.33,355.17 545.00,356.50 C546.67,357.83 548.17,358.83 550.00,360.00 C551.83,361.17 554.00,362.42 556.00,363.50 C558.00,364.58 560.00,365.55 562.00,366.50 C564.00,367.45 566.00,368.38 568.00,369.20 C570.00,370.02 572.00,370.80 574.00,371.40 C576.00,372.00 578.42,372.28 580.00,372.80 C581.58,373.32 582.92,374.22 583.50,374.50 L583.50,374.50 L451.00,374.50 Z" fill="url(#cGd)" fill-opacity="1.0" stroke="none"/>
<path d="M376.00,374.50 C376.83,374.17 379.42,373.33 381.00,372.50 C382.58,371.67 384.17,370.75 385.50,369.50 C386.83,368.25 388.00,366.92 389.00,365.00 C390.00,363.08 390.75,361.17 391.50,358.00 C392.25,354.83 392.87,350.33 393.50,346.00 C394.13,341.67 394.68,337.00 395.30,332.00 C395.92,327.00 396.55,321.33 397.20,316.00 C397.85,310.67 398.57,305.00 399.20,300.00 C399.83,295.00 400.45,290.00 401.00,286.00 C401.55,282.00 401.97,278.73 402.50,276.00 C403.03,273.27 403.62,270.35 404.20,269.60 C404.78,268.85 405.43,270.35 406.00,271.50 C406.57,272.65 407.03,274.75 407.60,276.50 C408.17,278.25 408.72,280.27 409.40,282.00 C410.08,283.73 410.73,285.70 411.70,286.90 C412.67,288.10 414.15,288.68 415.20,289.20 C416.25,289.72 416.87,288.70 418.00,290.00 C419.13,291.30 420.33,293.33 422.00,297.00 C423.67,300.67 426.00,307.17 428.00,312.00 C430.00,316.83 432.00,321.50 434.00,326.00 C436.00,330.50 438.17,335.17 440.00,339.00 C441.83,342.83 443.50,346.25 445.00,349.00 C446.50,351.75 447.67,355.00 449.00,355.50 C450.33,356.00 451.67,354.08 453.00,352.00 C454.33,349.92 455.67,345.75 457.00,343.00 C458.33,340.25 459.50,337.23 461.00,335.50 C462.50,333.77 464.42,333.12 466.00,332.60 C467.58,332.08 469.00,332.20 470.50,332.40 C472.00,332.60 473.42,333.20 475.00,333.80 C476.58,334.40 478.33,335.50 480.00,336.00 C481.67,336.50 483.33,336.83 485.00,336.80 C486.67,336.77 488.50,335.68 490.00,335.80 C491.50,335.92 492.67,336.72 494.00,337.50 C495.33,338.28 496.00,339.00 498.00,340.50 C500.00,342.00 503.33,344.33 506.00,346.50 C508.67,348.67 510.67,351.25 514.00,353.50 C517.33,355.75 522.00,358.00 526.00,360.00 C530.00,362.00 534.00,363.92 538.00,365.50 C542.00,367.08 546.00,368.42 550.00,369.50 C554.00,370.58 558.00,371.35 562.00,372.00 C566.00,372.65 570.42,372.98 574.00,373.40 C577.58,373.82 581.92,374.32 583.50,374.50 L583.50,374.50 L376.00,374.50 Z" fill="url(#cGp)" fill-opacity="0.8" stroke="none"/><path d="M376.00,374.50 C376.83,374.17 379.42,373.33 381.00,372.50 C382.58,371.67 384.17,370.75 385.50,369.50 C386.83,368.25 388.00,366.92 389.00,365.00 C390.00,363.08 390.75,361.17 391.50,358.00 C392.25,354.83 392.87,350.33 393.50,346.00 C394.13,341.67 394.68,337.00 395.30,332.00 C395.92,327.00 396.55,321.33 397.20,316.00 C397.85,310.67 398.57,305.00 399.20,300.00 C399.83,295.00 400.45,290.00 401.00,286.00 C401.55,282.00 401.97,278.73 402.50,276.00 C403.03,273.27 403.62,270.35 404.20,269.60 C404.78,268.85 405.43,270.35 406.00,271.50 C406.57,272.65 407.03,274.75 407.60,276.50 C408.17,278.25 408.72,280.27 409.40,282.00 C410.08,283.73 410.73,285.70 411.70,286.90 C412.67,288.10 414.15,288.68 415.20,289.20 C416.25,289.72 416.87,288.70 418.00,290.00 C419.13,291.30 420.33,293.33 422.00,297.00 C423.67,300.67 426.00,307.17 428.00,312.00 C430.00,316.83 432.00,321.50 434.00,326.00 C436.00,330.50 438.17,335.17 440.00,339.00 C441.83,342.83 443.50,346.25 445.00,349.00 C446.50,351.75 447.67,355.00 449.00,355.50 C450.33,356.00 451.67,354.08 453.00,352.00 C454.33,349.92 455.67,345.75 457.00,343.00 C458.33,340.25 459.50,337.23 461.00,335.50 C462.50,333.77 464.42,333.12 466.00,332.60 C467.58,332.08 469.00,332.20 470.50,332.40 C472.00,332.60 473.42,333.20 475.00,333.80 C476.58,334.40 478.33,335.50 480.00,336.00 C481.67,336.50 483.33,336.83 485.00,336.80 C486.67,336.77 488.50,335.68 490.00,335.80 C491.50,335.92 492.67,336.72 494.00,337.50 C495.33,338.28 496.00,339.00 498.00,340.50 C500.00,342.00 503.33,344.33 506.00,346.50 C508.67,348.67 510.67,351.25 514.00,353.50 C517.33,355.75 522.00,358.00 526.00,360.00 C530.00,362.00 534.00,363.92 538.00,365.50 C542.00,367.08 546.00,368.42 550.00,369.50 C554.00,370.58 558.00,371.35 562.00,372.00 C566.00,372.65 570.42,372.98 574.00,373.40 C577.58,373.82 581.92,374.32 583.50,374.50 L583.50,374.50 L376.00,374.50 Z" fill="url(#dotsG)" stroke="none"/>
<path d="M451.00,374.50 C451.25,372.42 451.92,366.75 452.50,362.00 C453.08,357.25 453.83,351.00 454.50,346.00 C455.17,341.00 455.83,336.67 456.50,332.00 C457.17,327.33 457.83,323.00 458.50,318.00 C459.17,313.00 459.83,306.83 460.50,302.00 C461.17,297.17 461.83,292.92 462.50,289.00 C463.17,285.08 463.83,281.33 464.50,278.50 C465.17,275.67 465.75,273.62 466.50,272.00 C467.25,270.38 468.08,269.33 469.00,268.80 C469.92,268.27 471.00,268.40 472.00,268.80 C473.00,269.20 473.92,270.25 475.00,271.20 C476.08,272.15 477.33,273.57 478.50,274.50 C479.67,275.43 480.83,276.68 482.00,276.80 C483.17,276.92 484.42,275.83 485.50,275.20 C486.58,274.57 487.58,273.47 488.50,273.00 C489.42,272.53 490.17,272.15 491.00,272.40 C491.83,272.65 492.67,273.23 493.50,274.50 C494.33,275.77 495.08,277.75 496.00,280.00 C496.92,282.25 498.00,285.33 499.00,288.00 C500.00,290.67 501.00,293.42 502.00,296.00 C503.00,298.58 504.00,301.17 505.00,303.50 C506.00,305.83 506.92,308.00 508.00,310.00 C509.08,312.00 510.33,313.75 511.50,315.50 C512.67,317.25 513.58,318.50 515.00,320.50 C516.42,322.50 518.33,325.25 520.00,327.50 C521.67,329.75 523.33,331.92 525.00,334.00 C526.67,336.08 528.33,337.92 530.00,340.00 C531.67,342.08 533.33,344.50 535.00,346.50 C536.67,348.50 538.33,350.33 540.00,352.00 C541.67,353.67 543.33,355.17 545.00,356.50 C546.67,357.83 548.17,358.83 550.00,360.00 C551.83,361.17 554.00,362.42 556.00,363.50 C558.00,364.58 560.00,365.55 562.00,366.50 C564.00,367.45 566.00,368.38 568.00,369.20 C570.00,370.02 572.00,370.80 574.00,371.40 C576.00,372.00 578.42,372.28 580.00,372.80 C581.58,373.32 582.92,374.22 583.50,374.50" fill="none" stroke="#4f9a2a" stroke-width="1.7" stroke-linejoin="round"/>
<path d="M376.00,374.50 C376.83,374.17 379.42,373.33 381.00,372.50 C382.58,371.67 384.17,370.75 385.50,369.50 C386.83,368.25 388.00,366.92 389.00,365.00 C390.00,363.08 390.75,361.17 391.50,358.00 C392.25,354.83 392.87,350.33 393.50,346.00 C394.13,341.67 394.68,337.00 395.30,332.00 C395.92,327.00 396.55,321.33 397.20,316.00 C397.85,310.67 398.57,305.00 399.20,300.00 C399.83,295.00 400.45,290.00 401.00,286.00 C401.55,282.00 401.97,278.73 402.50,276.00 C403.03,273.27 403.62,270.35 404.20,269.60 C404.78,268.85 405.43,270.35 406.00,271.50 C406.57,272.65 407.03,274.75 407.60,276.50 C408.17,278.25 408.72,280.27 409.40,282.00 C410.08,283.73 410.73,285.70 411.70,286.90 C412.67,288.10 414.15,288.68 415.20,289.20 C416.25,289.72 416.87,288.70 418.00,290.00 C419.13,291.30 420.33,293.33 422.00,297.00 C423.67,300.67 426.00,307.17 428.00,312.00 C430.00,316.83 432.00,321.50 434.00,326.00 C436.00,330.50 438.17,335.17 440.00,339.00 C441.83,342.83 443.50,346.25 445.00,349.00 C446.50,351.75 447.67,355.00 449.00,355.50 C450.33,356.00 451.67,354.08 453.00,352.00 C454.33,349.92 455.67,345.75 457.00,343.00 C458.33,340.25 459.50,337.23 461.00,335.50 C462.50,333.77 464.42,333.12 466.00,332.60 C467.58,332.08 469.00,332.20 470.50,332.40 C472.00,332.60 473.42,333.20 475.00,333.80 C476.58,334.40 478.33,335.50 480.00,336.00 C481.67,336.50 483.33,336.83 485.00,336.80 C486.67,336.77 488.50,335.68 490.00,335.80 C491.50,335.92 492.67,336.72 494.00,337.50 C495.33,338.28 496.00,339.00 498.00,340.50 C500.00,342.00 503.33,344.33 506.00,346.50 C508.67,348.67 510.67,351.25 514.00,353.50 C517.33,355.75 522.00,358.00 526.00,360.00 C530.00,362.00 534.00,363.92 538.00,365.50 C542.00,367.08 546.00,368.42 550.00,369.50 C554.00,370.58 558.00,371.35 562.00,372.00 C566.00,372.65 570.42,372.98 574.00,373.40 C577.58,373.82 581.92,374.32 583.50,374.50" fill="none" stroke="#7ccc3a" stroke-width="1.3" stroke-linejoin="round"/>
<path d="M367.00,387.60 C367.58,386.83 369.42,385.10 370.50,383.00 C371.58,380.90 372.58,378.00 373.50,375.00 C374.42,372.00 375.17,368.33 376.00,365.00 C376.83,361.67 377.67,358.17 378.50,355.00 C379.33,351.83 380.17,348.17 381.00,346.00 C381.83,343.83 382.75,342.50 383.50,342.00 C384.25,341.50 384.83,342.17 385.50,343.00 C386.17,343.83 386.75,346.13 387.50,347.00 C388.25,347.87 389.08,348.28 390.00,348.20 C390.92,348.12 392.00,347.13 393.00,346.50 C394.00,345.87 395.00,344.73 396.00,344.40 C397.00,344.07 398.00,343.98 399.00,344.50 C400.00,345.02 401.08,347.25 402.00,347.50 C402.92,347.75 403.75,347.25 404.50,346.00 C405.25,344.75 405.75,343.00 406.50,340.00 C407.25,337.00 408.08,332.67 409.00,328.00 C409.92,323.33 411.00,317.00 412.00,312.00 C413.00,307.00 414.00,302.00 415.00,298.00 C416.00,294.00 417.00,290.50 418.00,288.00 C419.00,285.50 420.00,283.17 421.00,283.00 C422.00,282.83 422.83,284.33 424.00,287.00 C425.17,289.67 426.50,295.33 428.00,299.00 C429.50,302.67 431.33,305.83 433.00,309.00 C434.67,312.17 436.33,314.33 438.00,318.00 C439.67,321.67 441.33,326.50 443.00,331.00 C444.67,335.50 446.17,340.50 448.00,345.00 C449.83,349.50 451.67,353.83 454.00,358.00 C456.33,362.17 459.33,366.75 462.00,370.00 C464.67,373.25 467.00,375.42 470.00,377.50 C473.00,379.58 476.33,381.17 480.00,382.50 C483.67,383.83 487.00,384.75 492.00,385.50 C497.00,386.25 502.00,386.67 510.00,387.00 C518.00,387.33 529.50,387.40 540.00,387.50 C550.50,387.60 567.50,387.58 573.00,387.60 L573.00,387.60 L367.00,387.60 Z" fill="#e3dbf6" fill-opacity="0.75" stroke="none"/><path d="M367.00,387.60 C367.58,386.83 369.42,385.10 370.50,383.00 C371.58,380.90 372.58,378.00 373.50,375.00 C374.42,372.00 375.17,368.33 376.00,365.00 C376.83,361.67 377.67,358.17 378.50,355.00 C379.33,351.83 380.17,348.17 381.00,346.00 C381.83,343.83 382.75,342.50 383.50,342.00 C384.25,341.50 384.83,342.17 385.50,343.00 C386.17,343.83 386.75,346.13 387.50,347.00 C388.25,347.87 389.08,348.28 390.00,348.20 C390.92,348.12 392.00,347.13 393.00,346.50 C394.00,345.87 395.00,344.73 396.00,344.40 C397.00,344.07 398.00,343.98 399.00,344.50 C400.00,345.02 401.08,347.25 402.00,347.50 C402.92,347.75 403.75,347.25 404.50,346.00 C405.25,344.75 405.75,343.00 406.50,340.00 C407.25,337.00 408.08,332.67 409.00,328.00 C409.92,323.33 411.00,317.00 412.00,312.00 C413.00,307.00 414.00,302.00 415.00,298.00 C416.00,294.00 417.00,290.50 418.00,288.00 C419.00,285.50 420.00,283.17 421.00,283.00 C422.00,282.83 422.83,284.33 424.00,287.00 C425.17,289.67 426.50,295.33 428.00,299.00 C429.50,302.67 431.33,305.83 433.00,309.00 C434.67,312.17 436.33,314.33 438.00,318.00 C439.67,321.67 441.33,326.50 443.00,331.00 C444.67,335.50 446.17,340.50 448.00,345.00 C449.83,349.50 451.67,353.83 454.00,358.00 C456.33,362.17 459.33,366.75 462.00,370.00 C464.67,373.25 467.00,375.42 470.00,377.50 C473.00,379.58 476.33,381.17 480.00,382.50 C483.67,383.83 487.00,384.75 492.00,385.50 C497.00,386.25 502.00,386.67 510.00,387.00 C518.00,387.33 529.50,387.40 540.00,387.50 C550.50,387.60 567.50,387.58 573.00,387.60 L573.00,387.60 L367.00,387.60 Z" fill="url(#dotsP)" stroke="none"/><path d="M367.00,387.60 C367.58,386.83 369.42,385.10 370.50,383.00 C371.58,380.90 372.58,378.00 373.50,375.00 C374.42,372.00 375.17,368.33 376.00,365.00 C376.83,361.67 377.67,358.17 378.50,355.00 C379.33,351.83 380.17,348.17 381.00,346.00 C381.83,343.83 382.75,342.50 383.50,342.00 C384.25,341.50 384.83,342.17 385.50,343.00 C386.17,343.83 386.75,346.13 387.50,347.00 C388.25,347.87 389.08,348.28 390.00,348.20 C390.92,348.12 392.00,347.13 393.00,346.50 C394.00,345.87 395.00,344.73 396.00,344.40 C397.00,344.07 398.00,343.98 399.00,344.50 C400.00,345.02 401.08,347.25 402.00,347.50 C402.92,347.75 403.75,347.25 404.50,346.00 C405.25,344.75 405.75,343.00 406.50,340.00 C407.25,337.00 408.08,332.67 409.00,328.00 C409.92,323.33 411.00,317.00 412.00,312.00 C413.00,307.00 414.00,302.00 415.00,298.00 C416.00,294.00 417.00,290.50 418.00,288.00 C419.00,285.50 420.00,283.17 421.00,283.00 C422.00,282.83 422.83,284.33 424.00,287.00 C425.17,289.67 426.50,295.33 428.00,299.00 C429.50,302.67 431.33,305.83 433.00,309.00 C434.67,312.17 436.33,314.33 438.00,318.00 C439.67,321.67 441.33,326.50 443.00,331.00 C444.67,335.50 446.17,340.50 448.00,345.00 C449.83,349.50 451.67,353.83 454.00,358.00 C456.33,362.17 459.33,366.75 462.00,370.00 C464.67,373.25 467.00,375.42 470.00,377.50 C473.00,379.58 476.33,381.17 480.00,382.50 C483.67,383.83 487.00,384.75 492.00,385.50 C497.00,386.25 502.00,386.67 510.00,387.00 C518.00,387.33 529.50,387.40 540.00,387.50 C550.50,387.60 567.50,387.58 573.00,387.60" fill="none" stroke="#b79bf0" stroke-width="1.1" stroke-linejoin="round"/>
<line x1="358.0" y1="399.5" x2="423.6" y2="302.9" stroke="#333" stroke-width="1.1"/>
<path d="M377.00,387.60 C379.17,387.57 385.75,387.48 390.00,387.40 C394.25,387.32 400.13,387.83 402.50,387.10 C404.87,386.37 403.68,385.52 404.20,383.00 C404.72,380.48 405.13,376.00 405.60,372.00 C406.07,368.00 406.50,363.33 407.00,359.00 C407.50,354.67 408.07,349.83 408.60,346.00 C409.13,342.17 409.67,339.00 410.20,336.00 C410.73,333.00 411.25,331.33 411.80,328.00 C412.35,324.67 412.93,319.83 413.50,316.00 C414.07,312.17 414.65,308.17 415.20,305.00 C415.75,301.83 416.28,299.58 416.80,297.00 C417.32,294.42 417.77,291.75 418.30,289.50 C418.83,287.25 419.45,284.95 420.00,283.50 C420.55,282.05 421.07,281.13 421.60,280.80 C422.13,280.47 422.68,280.97 423.20,281.50 C423.72,282.03 424.18,282.83 424.70,284.00 C425.22,285.17 425.67,286.58 426.30,288.50 C426.93,290.42 427.72,293.33 428.50,295.50 C429.28,297.67 430.20,299.75 431.00,301.50 C431.80,303.25 432.55,304.55 433.30,306.00 C434.05,307.45 434.82,308.92 435.50,310.20 C436.18,311.48 436.70,311.95 437.40,313.70 C438.10,315.45 439.02,318.57 439.70,320.70 C440.38,322.83 440.87,324.45 441.50,326.50 C442.13,328.55 442.75,330.67 443.50,333.00 C444.25,335.33 445.08,337.92 446.00,340.50 C446.92,343.08 447.92,345.83 449.00,348.50 C450.08,351.17 451.25,353.92 452.50,356.50 C453.75,359.08 455.08,361.67 456.50,364.00 C457.92,366.33 459.42,368.58 461.00,370.50 C462.58,372.42 464.17,373.95 466.00,375.50 C467.83,377.05 469.83,378.55 472.00,379.80 C474.17,381.05 476.50,382.10 479.00,383.00 C481.50,383.90 483.83,384.60 487.00,385.20 C490.17,385.80 493.33,386.25 498.00,386.60 C502.67,386.95 502.50,387.13 515.00,387.30 C527.50,387.47 563.33,387.55 573.00,387.60 L573.00,387.60 L377.00,387.60 Z" fill="#9c7ae0" fill-opacity="0.8" stroke="none"/><path d="M377.00,387.60 C379.17,387.57 385.75,387.48 390.00,387.40 C394.25,387.32 400.13,387.83 402.50,387.10 C404.87,386.37 403.68,385.52 404.20,383.00 C404.72,380.48 405.13,376.00 405.60,372.00 C406.07,368.00 406.50,363.33 407.00,359.00 C407.50,354.67 408.07,349.83 408.60,346.00 C409.13,342.17 409.67,339.00 410.20,336.00 C410.73,333.00 411.25,331.33 411.80,328.00 C412.35,324.67 412.93,319.83 413.50,316.00 C414.07,312.17 414.65,308.17 415.20,305.00 C415.75,301.83 416.28,299.58 416.80,297.00 C417.32,294.42 417.77,291.75 418.30,289.50 C418.83,287.25 419.45,284.95 420.00,283.50 C420.55,282.05 421.07,281.13 421.60,280.80 C422.13,280.47 422.68,280.97 423.20,281.50 C423.72,282.03 424.18,282.83 424.70,284.00 C425.22,285.17 425.67,286.58 426.30,288.50 C426.93,290.42 427.72,293.33 428.50,295.50 C429.28,297.67 430.20,299.75 431.00,301.50 C431.80,303.25 432.55,304.55 433.30,306.00 C434.05,307.45 434.82,308.92 435.50,310.20 C436.18,311.48 436.70,311.95 437.40,313.70 C438.10,315.45 439.02,318.57 439.70,320.70 C440.38,322.83 440.87,324.45 441.50,326.50 C442.13,328.55 442.75,330.67 443.50,333.00 C444.25,335.33 445.08,337.92 446.00,340.50 C446.92,343.08 447.92,345.83 449.00,348.50 C450.08,351.17 451.25,353.92 452.50,356.50 C453.75,359.08 455.08,361.67 456.50,364.00 C457.92,366.33 459.42,368.58 461.00,370.50 C462.58,372.42 464.17,373.95 466.00,375.50 C467.83,377.05 469.83,378.55 472.00,379.80 C474.17,381.05 476.50,382.10 479.00,383.00 C481.50,383.90 483.83,384.60 487.00,385.20 C490.17,385.80 493.33,386.25 498.00,386.60 C502.67,386.95 502.50,387.13 515.00,387.30 C527.50,387.47 563.33,387.55 573.00,387.60" fill="none" stroke="#9b45f0" stroke-width="1.8" stroke-linejoin="round"/>
<line x1="358.0" y1="292.5" x2="358.0" y2="399.5" stroke="#222" stroke-width="1.4"/>
<line x1="358.0" y1="292.5" x2="423.6" y2="195.9" stroke="#222" stroke-width="1.4"/>
<line x1="422.90000000000003" y1="195.9" x2="633.1" y2="195.9" stroke="#222" stroke-width="1.4"/>
<line x1="632.4" y1="195.9" x2="632.4" y2="302.9" stroke="#222" stroke-width="1.4"/>
<line x1="357.3" y1="399.5" x2="565.9" y2="399.5" stroke="#222" stroke-width="1.4"/>
<line x1="565.9" y1="399.5" x2="632.4" y2="302.9" stroke="#222" stroke-width="1.4"/>
<line x1="358.0" y1="399.5" x2="358.0" y2="403.7" stroke="#222" stroke-width="1.3"/>
<text x="358.3" y="420.0" font-size="13.9" text-anchor="middle" fill="#1a1a1a" >400</text>
<line x1="381.1" y1="399.5" x2="381.1" y2="403.7" stroke="#222" stroke-width="1.3"/>
<line x1="404.2" y1="399.5" x2="404.2" y2="403.7" stroke="#222" stroke-width="1.3"/>
<text x="404.5" y="420.0" font-size="13.9" text-anchor="middle" fill="#1a1a1a" >500</text>
<line x1="427.3" y1="399.5" x2="427.3" y2="403.7" stroke="#222" stroke-width="1.3"/>
<line x1="450.4" y1="399.5" x2="450.4" y2="403.7" stroke="#222" stroke-width="1.3"/>
<text x="450.7" y="420.0" font-size="13.9" text-anchor="middle" fill="#1a1a1a" >600</text>
<line x1="473.5" y1="399.5" x2="473.5" y2="403.7" stroke="#222" stroke-width="1.3"/>
<line x1="496.6" y1="399.5" x2="496.6" y2="403.7" stroke="#222" stroke-width="1.3"/>
<text x="496.9" y="420.0" font-size="13.9" text-anchor="middle" fill="#1a1a1a" >700</text>
<line x1="519.7" y1="399.5" x2="519.7" y2="403.7" stroke="#222" stroke-width="1.3"/>
<line x1="542.8" y1="399.5" x2="542.8" y2="403.7" stroke="#222" stroke-width="1.3"/>
<text x="543.1" y="420.0" font-size="13.9" text-anchor="middle" fill="#1a1a1a" >800</text>
<line x1="565.9" y1="399.5" x2="565.9" y2="403.7" stroke="#222" stroke-width="1.3"/>
<text x="461.3" y="439.0" font-size="16.2" text-anchor="middle" fill="#1a1a1a" >Wavelength (nm)</text>
<line x1="571.7" y1="391.1" x2="578.2" y2="391.1" stroke="#222" stroke-width="1.2"/>
<text x="579.3" y="395.7" font-size="12.4" text-anchor="start" fill="#1a1a1a" >TP</text>
<line x1="583.6" y1="373.8" x2="590.1" y2="373.8" stroke="#222" stroke-width="1.2"/>
<text x="591.2" y="378.4" font-size="12.4" text-anchor="start" fill="#1a1a1a" >TPy</text>
<line x1="608.0" y1="338.4" x2="614.5" y2="338.4" stroke="#222" stroke-width="1.2"/>
<text x="615.6" y="343.0" font-size="12.4" text-anchor="start" fill="#1a1a1a" >TH</text>
<line x1="627.9" y1="309.4" x2="634.4" y2="309.4" stroke="#222" stroke-width="1.2"/>
<text x="635.5" y="314.0" font-size="12.4" text-anchor="start" fill="#1a1a1a" >TQ</text>
<text transform="translate(671.2,256.5) rotate(-90)" font-size="16.1" text-anchor="middle" fill="#1a1a1a">Normalized intensity</text>
<rect x="554" y="198" width="77" height="46" fill="#fff"/>
<text x="556.4" y="210" font-size="11.8" fill="#1a1a1a">1×10<tspan font-size="8.2" dy="-4.2">-5</tspan><tspan dy="4.2"> M</tspan></text>
<rect x="556.5" y="215.5" width="26" height="12.2" fill="#fff" stroke="#333" stroke-width="1.2"/>
<rect x="556.5" y="215.5" width="26" height="12.2" fill="url(#dotsL)"/>
<rect x="556.5" y="230.1" width="26" height="12.2" fill="#fff" stroke="#333" stroke-width="1.2"/>
<text x="585.6" y="225.7" font-size="11.8" text-anchor="start" fill="#1a1a1a" >Prompt</text>
<text x="585.6" y="239.8" font-size="11.8" text-anchor="start" fill="#1a1a1a" >Delayed</text>
<text x="428.4" y="211.0" font-size="11.6" text-anchor="start" fill="#1a1a1a" >77 K</text>
<text x="352.2" y="211.0" font-size="22.3" text-anchor="start" fill="#1a1a1a" >c</text>
<defs><linearGradient id="mP" gradientUnits="userSpaceOnUse" x1="23.0" y1="37.6" x2="115.9" y2="130.6"><stop offset="0" stop-color="#d8d3f0"/><stop offset="1" stop-color="#f2f1fb"/></linearGradient><linearGradient id="mG" gradientUnits="userSpaceOnUse" x1="167.2" y1="36.5" x2="293.7" y2="158.8"><stop offset="0" stop-color="#d3f0c9"/><stop offset="1" stop-color="#f3faf0"/></linearGradient><linearGradient id="mB" gradientUnits="userSpaceOnUse" x1="332.0" y1="36.5" x2="505.2" y2="127.8"><stop offset="0" stop-color="#cde0f6"/><stop offset="1" stop-color="#f0f6fc"/></linearGradient><linearGradient id="mK" gradientUnits="userSpaceOnUse" x1="514.5" y1="38.7" x2="667.2" y2="128.9"><stop offset="0" stop-color="#d2d2d2"/><stop offset="1" stop-color="#f4f4f4"/></linearGradient></defs>
<g transform="matrix(1.0300,0,0,1,-2.028,0)">
<path d="M67.60,65.50 L83.71,74.80 L83.71,93.40 L67.60,102.70 L51.49,93.40 L51.49,74.80 Z" fill="url(#mP)" stroke="url(#mP)" stroke-width="0.6"/>
<path d="M51.49,37.60 L67.60,46.90 L67.60,65.50 L51.49,74.80 L35.38,65.50 L35.38,46.90 Z" fill="url(#mP)" stroke="url(#mP)" stroke-width="0.6"/>
<path d="M99.82,65.50 L115.92,74.80 L115.92,93.40 L99.82,102.70 L83.71,93.40 L83.71,74.80 Z" fill="url(#mP)" stroke="url(#mP)" stroke-width="0.6"/>
<path d="M51.49,93.40 L67.60,102.70 L67.60,121.30 L51.49,130.60 L35.38,121.30 L35.38,102.70 Z" fill="url(#mP)" stroke="url(#mP)" stroke-width="0.6"/>
<path d="M67.60,46.90 L89.92,45.44 L99.82,65.50 L67.60,84.10 Z" fill="url(#mP)" stroke="url(#mP)" stroke-width="0.6"/>
<path d="M35.38,65.50 L22.96,84.10 L35.38,102.70 L67.60,84.10 Z" fill="url(#mP)" stroke="url(#mP)" stroke-width="0.6"/>
<path d="M67.60,121.30 L89.92,122.76 L99.82,102.70 L67.60,84.10 Z" fill="url(#mP)" stroke="url(#mP)" stroke-width="0.6"/>
<path d="M67.60,65.50 L83.71,74.80 M83.71,74.80 L83.71,93.40 M83.71,93.40 L67.60,102.70 M67.60,102.70 L51.49,93.40 M51.49,93.40 L51.49,74.80 M51.49,74.80 L67.60,65.50 M51.49,37.60 L67.60,46.90 M67.60,46.90 L67.60,65.50 M51.49,74.80 L35.38,65.50 M35.38,65.50 L35.38,46.90 M35.38,46.90 L51.49,37.60 M99.82,65.50 L115.92,74.80 M115.92,74.80 L115.92,93.40 M115.92,93.40 L99.82,102.70 M99.82,102.70 L83.71,93.40 M83.71,74.80 L99.82,65.50 M67.60,102.70 L67.60,121.30 M67.60,121.30 L51.49,130.60 M51.49,130.60 L35.38,121.30 M35.38,121.30 L35.38,102.70 M35.38,102.70 L51.49,93.40 M67.60,46.90 L84.93,45.77 M99.82,65.50 L92.13,49.92 M35.38,65.50 L25.74,79.94 M35.38,102.70 L25.74,88.26 M67.60,121.30 L84.93,122.43 M99.82,102.70 L92.13,118.28 M51.49,37.60 L51.49,26.00 M35.38,46.90 L25.34,41.10 M115.92,74.80 L125.97,69.00 M115.92,93.40 L125.97,99.20 M35.38,121.30 L25.34,127.10 M51.49,130.60 L51.49,142.20 M38.38,49.50 L38.38,62.90 M52.25,41.50 L63.84,48.20 M54.49,77.40 L54.49,90.80 M68.36,69.40 L79.95,76.10 M79.95,92.10 L68.36,98.80 M100.57,69.40 L112.17,76.10 M112.17,92.10 L100.57,98.80 M38.38,105.30 L38.38,118.70 M52.25,126.70 L63.84,120.00" fill="none" stroke="#3a3a3a" stroke-width="1.25" stroke-linecap="round"/>
<line x1="91.27" y1="40.24" x2="91.27" y2="32.84" stroke="#3a3a3a" stroke-width="1.1"/>
<line x1="88.57" y1="40.24" x2="88.57" y2="32.84" stroke="#3a3a3a" stroke-width="1.1"/>
<line x1="95.29" y1="45.40" x2="102.44" y2="43.48" stroke="#3a3a3a" stroke-width="1.1"/>
<line x1="94.59" y1="42.79" x2="101.74" y2="40.88" stroke="#3a3a3a" stroke-width="1.1"/>
<line x1="19.00" y1="80.47" x2="12.47" y2="76.99" stroke="#3a3a3a" stroke-width="1.1"/>
<line x1="17.73" y1="82.85" x2="11.20" y2="79.38" stroke="#3a3a3a" stroke-width="1.1"/>
<line x1="17.73" y1="85.35" x2="11.20" y2="88.82" stroke="#3a3a3a" stroke-width="1.1"/>
<line x1="19.00" y1="87.73" x2="12.47" y2="91.21" stroke="#3a3a3a" stroke-width="1.1"/>
<line x1="88.57" y1="127.96" x2="88.57" y2="135.36" stroke="#3a3a3a" stroke-width="1.1"/>
<line x1="91.27" y1="127.96" x2="91.27" y2="135.36" stroke="#3a3a3a" stroke-width="1.1"/>
<line x1="93.88" y1="126.39" x2="100.41" y2="129.87" stroke="#3a3a3a" stroke-width="1.1"/>
<line x1="95.15" y1="124.01" x2="101.68" y2="127.48" stroke="#3a3a3a" stroke-width="1.1"/>
<text x="89.92" y="49.04" font-size="10.0" text-anchor="middle" fill="#222">S</text>
<text x="22.96" y="87.70" font-size="10.0" text-anchor="middle" fill="#222">S</text>
<text x="89.92" y="126.36" font-size="10.0" text-anchor="middle" fill="#222">S</text>
<text x="89.92" y="31.04" font-size="10.0" text-anchor="middle" fill="#222">O</text>
<text x="107.31" y="44.38" font-size="10.0" text-anchor="middle" fill="#222">O</text>
<text x="7.07" y="79.25" font-size="10.0" text-anchor="middle" fill="#222">O</text>
<text x="7.07" y="96.15" font-size="10.0" text-anchor="middle" fill="#222">O</text>
<text x="89.92" y="144.36" font-size="10.0" text-anchor="middle" fill="#222">O</text>
<text x="105.81" y="134.81" font-size="10.0" text-anchor="middle" fill="#222">O</text>
<text x="47.60" y="24.20" font-size="10.0" text-anchor="start" fill="#222">OBu</text>
<text x="24.03" y="42.30" font-size="10.0" text-anchor="end" fill="#222">BuO</text>
<text x="127.28" y="70.20" font-size="10.0" text-anchor="start" fill="#222">OBu</text>
<text x="127.28" y="106.40" font-size="10.0" text-anchor="start" fill="#222">OBu</text>
<text x="24.03" y="134.30" font-size="10.0" text-anchor="end" fill="#222">BuO</text>
<text x="47.60" y="152.40" font-size="10.0" text-anchor="start" fill="#222">OBu</text>
</g>
<g transform="matrix(1.0300,0,0,1,-6.369,0)">
<path d="M212.30,64.75 L228.58,74.15 L228.58,92.95 L212.30,102.35 L196.02,92.95 L196.02,74.15 Z" fill="url(#mG)" stroke="url(#mG)" stroke-width="0.6"/>
<path d="M196.02,36.55 L212.30,45.95 L212.30,64.75 L196.02,74.15 L179.74,64.75 L179.74,45.95 Z" fill="url(#mG)" stroke="url(#mG)" stroke-width="0.6"/>
<path d="M244.86,64.75 L261.14,74.15 L261.14,92.95 L244.86,102.35 L228.58,92.95 L228.58,74.15 Z" fill="url(#mG)" stroke="url(#mG)" stroke-width="0.6"/>
<path d="M196.02,92.95 L212.30,102.35 L212.30,121.15 L196.02,130.55 L179.74,121.15 L179.74,102.35 Z" fill="url(#mG)" stroke="url(#mG)" stroke-width="0.6"/>
<path d="M212.30,45.95 L234.86,44.47 L244.86,64.75 L212.30,83.55 Z" fill="url(#mG)" stroke="url(#mG)" stroke-width="0.6"/>
<path d="M179.74,64.75 L167.18,83.55 L179.74,102.35 L212.30,83.55 Z" fill="url(#mG)" stroke="url(#mG)" stroke-width="0.6"/>
<path d="M228.58,92.95 L244.86,102.35 L244.86,121.15 L228.58,130.55 L212.30,121.15 L212.30,102.35 Z" fill="url(#mG)" stroke="url(#mG)" stroke-width="0.6"/>
<path d="M277.43,121.15 L293.71,130.55 L293.71,149.35 L277.43,158.75 L261.14,149.35 L261.14,130.55 Z" fill="url(#mG)" stroke="url(#mG)" stroke-width="0.6"/>
<path d="M212.30,64.75 L228.58,74.15 M228.58,74.15 L228.58,92.95 M228.58,92.95 L212.30,102.35 M212.30,102.35 L196.02,92.95 M196.02,92.95 L196.02,74.15 M196.02,74.15 L212.30,64.75 M196.02,36.55 L212.30,45.95 M212.30,45.95 L212.30,64.75 M212.30,64.75 L196.02,74.15 M196.02,74.15 L179.74,64.75 M179.74,64.75 L179.74,45.95 M179.74,45.95 L196.02,36.55 M244.86,64.75 L261.14,74.15 M261.14,74.15 L261.14,92.95 M261.14,92.95 L244.86,102.35 M244.86,102.35 L228.58,92.95 M228.58,74.15 L244.86,64.75 M212.30,102.35 L212.30,121.15 M212.30,121.15 L196.02,130.55 M196.02,130.55 L179.74,121.15 M179.74,121.15 L179.74,102.35 M179.74,102.35 L196.02,92.95 M212.30,45.95 L229.87,44.80 M244.86,64.75 L237.07,48.96 M179.74,64.75 L169.96,79.39 M179.74,102.35 L169.96,87.71 M244.86,102.35 L244.86,121.15 M244.86,121.15 L232.56,128.25 M224.60,128.25 L212.30,121.15 M244.86,121.15 L261.14,130.55 M277.43,121.15 L293.71,130.55 M293.71,130.55 L293.71,149.35 M293.71,149.35 L277.43,158.75 M277.43,158.75 L261.14,149.35 M261.14,149.35 L261.14,130.55 M261.14,130.55 L277.43,121.15 M196.02,36.55 L196.02,24.95 M179.74,45.95 L169.69,40.15 M261.14,74.15 L271.19,68.35 M261.14,92.95 L271.19,98.75 M179.74,121.15 L169.69,126.95 M196.02,130.55 L196.02,142.15 M239.78,120.62 L230.66,125.88 M182.74,48.58 L182.74,62.12 M196.80,40.46 L208.52,47.23 M196.80,70.24 L208.52,63.47 M231.58,76.78 L231.58,90.32 M245.64,68.66 L257.36,75.43 M257.36,91.67 L245.64,98.44 M196.80,96.86 L208.52,103.63 M182.74,104.98 L182.74,118.52 M196.80,126.64 L208.52,119.87 M278.20,125.06 L289.93,131.83 M289.93,148.07 L278.20,154.84 M264.14,146.72 L264.14,133.18" fill="none" stroke="#3a3a3a" stroke-width="1.25" stroke-linecap="round"/>
<text x="234.86" y="48.07" font-size="10.0" text-anchor="middle" fill="#222">S</text>
<text x="167.18" y="87.15" font-size="10.0" text-anchor="middle" fill="#222">S</text>
<text x="228.58" y="134.15" font-size="10.0" text-anchor="middle" fill="#222">N</text>
<text x="192.13" y="23.15" font-size="10.0" text-anchor="start" fill="#222">OBu</text>
<text x="168.39" y="41.35" font-size="10.0" text-anchor="end" fill="#222">BuO</text>
<text x="272.50" y="69.55" font-size="10.0" text-anchor="start" fill="#222">OBu</text>
<text x="272.50" y="105.95" font-size="10.0" text-anchor="start" fill="#222">OBu</text>
<text x="168.39" y="134.15" font-size="10.0" text-anchor="end" fill="#222">BuO</text>
<text x="192.13" y="152.35" font-size="10.0" text-anchor="start" fill="#222">OBu</text>
</g>
<g transform="matrix(1.0080,0,0,1,-3.006,0)">
<path d="M375.80,63.89 L391.61,73.02 L391.61,91.28 L375.80,100.41 L359.99,91.28 L359.99,73.02 Z" fill="url(#mB)" stroke="url(#mB)" stroke-width="0.6"/>
<path d="M359.99,36.50 L375.80,45.63 L375.80,63.89 L359.99,73.02 L344.17,63.89 L344.17,45.63 Z" fill="url(#mB)" stroke="url(#mB)" stroke-width="0.6"/>
<path d="M407.43,63.89 L423.24,73.02 L423.24,91.28 L407.43,100.41 L391.61,91.28 L391.61,73.02 Z" fill="url(#mB)" stroke="url(#mB)" stroke-width="0.6"/>
<path d="M359.99,91.28 L375.80,100.41 L375.80,118.67 L359.99,127.80 L344.17,118.67 L344.17,100.41 Z" fill="url(#mB)" stroke="url(#mB)" stroke-width="0.6"/>
<path d="M375.80,45.63 L397.71,44.20 L407.43,63.89 L375.80,82.15 Z" fill="url(#mB)" stroke="url(#mB)" stroke-width="0.6"/>
<path d="M344.17,63.89 L331.98,82.15 L344.17,100.41 L375.80,82.15 Z" fill="url(#mB)" stroke="url(#mB)" stroke-width="0.6"/>
<path d="M375.80,118.67 L397.71,120.10 L407.43,100.41 L375.80,82.15 Z" fill="url(#mB)" stroke="url(#mB)" stroke-width="0.6"/>
<path d="M423.24,73.02 L440.24,67.12 L451.04,82.15 L440.24,97.38 L423.24,91.28 Z" fill="url(#mB)" stroke="url(#mB)" stroke-width="0.6"/>
<path d="M505.24,82.15 L496.29,66.65 L478.39,66.65 L469.44,82.15 L478.39,97.65 L496.29,97.65 Z" fill="url(#mB)" stroke="url(#mB)" stroke-width="0.6"/>
<path d="M375.80,63.89 L391.61,73.02 M391.61,73.02 L391.61,91.28 M391.61,91.28 L375.80,100.41 M375.80,100.41 L359.99,91.28 M359.99,91.28 L359.99,73.02 M359.99,73.02 L375.80,63.89 M359.99,36.50 L375.80,45.63 M375.80,45.63 L375.80,63.89 M359.99,73.02 L344.17,63.89 M344.17,63.89 L344.17,45.63 M344.17,45.63 L359.99,36.50 M407.43,63.89 L423.24,73.02 M423.24,73.02 L423.24,91.28 M423.24,91.28 L407.43,100.41 M407.43,100.41 L391.61,91.28 M391.61,73.02 L407.43,63.89 M375.80,100.41 L375.80,118.67 M375.80,118.67 L359.99,127.80 M359.99,127.80 L344.17,118.67 M344.17,118.67 L344.17,100.41 M344.17,100.41 L359.99,91.28 M375.80,45.63 L392.72,44.52 M407.43,63.89 L399.92,48.68 M344.17,63.89 L334.75,77.99 M344.17,100.41 L334.75,86.31 M375.80,118.67 L392.72,119.78 M407.43,100.41 L399.92,115.62 M423.24,73.02 L435.90,68.63 M442.93,70.86 L451.04,82.15 M451.04,82.15 L442.90,93.63 M435.91,95.83 L423.24,91.28 M451.04,82.15 L469.44,82.15 M505.24,82.15 L496.29,66.65 M496.29,66.65 L478.39,66.65 M478.39,66.65 L469.44,82.15 M469.44,82.15 L478.39,97.65 M478.39,97.65 L496.29,97.65 M496.29,97.65 L505.24,82.15 M359.99,36.50 L359.99,24.90 M344.17,45.63 L334.13,39.83 M344.17,118.67 L334.13,124.47 M359.99,127.80 L359.99,139.40 M347.17,48.19 L347.17,61.33 M360.70,40.38 L372.09,46.95 M360.70,69.14 L372.09,62.57 M394.61,75.58 L394.61,88.72 M408.14,67.77 L419.53,74.34 M419.53,89.96 L408.14,96.53 M360.70,95.16 L372.09,101.73 M347.17,102.97 L347.17,116.11 M360.70,123.92 L372.09,117.35 M440.67,72.51 L446.07,80.03 M493.78,69.65 L480.90,69.65 M473.29,82.82 L479.74,93.98 M494.95,93.98 L501.39,82.82" fill="none" stroke="#3a3a3a" stroke-width="1.25" stroke-linecap="round"/>
<line x1="399.06" y1="39.00" x2="399.06" y2="31.60" stroke="#3a3a3a" stroke-width="1.1"/>
<line x1="396.36" y1="39.00" x2="396.36" y2="31.60" stroke="#3a3a3a" stroke-width="1.1"/>
<line x1="402.91" y1="42.86" x2="409.39" y2="39.27" stroke="#3a3a3a" stroke-width="1.1"/>
<line x1="401.61" y1="40.50" x2="408.08" y2="36.91" stroke="#3a3a3a" stroke-width="1.1"/>
<line x1="328.28" y1="78.25" x2="322.01" y2="74.33" stroke="#3a3a3a" stroke-width="1.1"/>
<line x1="326.85" y1="80.54" x2="320.58" y2="76.62" stroke="#3a3a3a" stroke-width="1.1"/>
<line x1="326.75" y1="83.40" x2="320.22" y2="86.87" stroke="#3a3a3a" stroke-width="1.1"/>
<line x1="328.02" y1="85.78" x2="321.48" y2="89.26" stroke="#3a3a3a" stroke-width="1.1"/>
<line x1="396.54" y1="125.35" x2="396.80" y2="132.74" stroke="#3a3a3a" stroke-width="1.1"/>
<line x1="399.24" y1="125.25" x2="399.50" y2="132.65" stroke="#3a3a3a" stroke-width="1.1"/>
<line x1="401.73" y1="123.67" x2="408.33" y2="127.03" stroke="#3a3a3a" stroke-width="1.1"/>
<line x1="402.96" y1="121.26" x2="409.55" y2="124.62" stroke="#3a3a3a" stroke-width="1.1"/>
<text x="397.71" y="47.80" font-size="10.0" text-anchor="middle" fill="#222">S</text>
<text x="331.98" y="85.75" font-size="10.0" text-anchor="middle" fill="#222">S</text>
<text x="397.71" y="123.70" font-size="10.0" text-anchor="middle" fill="#222">S</text>
<text x="397.71" y="30.80" font-size="10.0" text-anchor="middle" fill="#222">O</text>
<text x="412.58" y="39.56" font-size="10.0" text-anchor="middle" fill="#222">O</text>
<text x="317.39" y="76.64" font-size="10.0" text-anchor="middle" fill="#222">O</text>
<text x="316.79" y="93.82" font-size="10.0" text-anchor="middle" fill="#222">O</text>
<text x="398.33" y="141.29" font-size="10.0" text-anchor="middle" fill="#222">O</text>
<text x="413.39" y="131.69" font-size="10.0" text-anchor="middle" fill="#222">O</text>
<text x="440.24" y="70.72" font-size="10.0" text-anchor="middle" fill="#222">N</text>
<text x="440.24" y="100.98" font-size="10.0" text-anchor="middle" fill="#222">O</text>
<text x="356.10" y="23.10" font-size="10.0" text-anchor="start" fill="#222">OBu</text>
<text x="332.82" y="41.03" font-size="10.0" text-anchor="end" fill="#222">BuO</text>
<text x="332.82" y="131.67" font-size="10.0" text-anchor="end" fill="#222">BuO</text>
<text x="356.10" y="149.60" font-size="10.0" text-anchor="start" fill="#222">OBu</text>
</g>
<g transform="matrix(1.0000,0,0,1,0.000,0)">
<path d="M557.80,65.75 L573.43,74.78 L573.43,92.82 L557.80,101.85 L542.17,92.82 L542.17,74.78 Z" fill="url(#mK)" stroke="url(#mK)" stroke-width="0.6"/>
<path d="M542.17,38.67 L557.80,47.70 L557.80,65.75 L542.17,74.77 L526.54,65.75 L526.54,47.70 Z" fill="url(#mK)" stroke="url(#mK)" stroke-width="0.6"/>
<path d="M589.06,65.75 L604.70,74.78 L604.70,92.82 L589.06,101.85 L573.43,92.82 L573.43,74.78 Z" fill="url(#mK)" stroke="url(#mK)" stroke-width="0.6"/>
<path d="M542.17,92.82 L557.80,101.85 L557.80,119.90 L542.17,128.92 L526.54,119.90 L526.54,101.85 Z" fill="url(#mK)" stroke="url(#mK)" stroke-width="0.6"/>
<path d="M557.80,47.70 L579.46,46.28 L589.06,65.75 L557.80,83.80 Z" fill="url(#mK)" stroke="url(#mK)" stroke-width="0.6"/>
<path d="M526.54,65.75 L514.48,83.80 L526.54,101.85 L557.80,83.80 Z" fill="url(#mK)" stroke="url(#mK)" stroke-width="0.6"/>
<path d="M557.80,119.90 L579.46,121.32 L589.06,101.85 L557.80,83.80 Z" fill="url(#mK)" stroke="url(#mK)" stroke-width="0.6"/>
<path d="M620.33,65.75 L635.96,74.78 L635.96,92.82 L620.33,101.85 L604.70,92.82 L604.70,74.78 Z" fill="url(#mK)" stroke="url(#mK)" stroke-width="0.6"/>
<path d="M651.59,65.75 L667.22,74.78 L667.22,92.82 L651.59,101.85 L635.96,92.82 L635.96,74.78 Z" fill="url(#mK)" stroke="url(#mK)" stroke-width="0.6"/>
<path d="M557.80,65.75 L573.43,74.78 M573.43,74.78 L573.43,92.82 M573.43,92.82 L557.80,101.85 M557.80,101.85 L542.17,92.82 M542.17,92.82 L542.17,74.78 M542.17,74.78 L557.80,65.75 M542.17,38.67 L557.80,47.70 M557.80,47.70 L557.80,65.75 M542.17,74.77 L526.54,65.75 M526.54,65.75 L526.54,47.70 M526.54,47.70 L542.17,38.67 M589.06,65.75 L604.70,74.78 M604.70,74.78 L604.70,92.82 M604.70,92.82 L589.06,101.85 M589.06,101.85 L573.43,92.82 M573.43,74.78 L589.06,65.75 M557.80,101.85 L557.80,119.90 M557.80,119.90 L542.17,128.92 M542.17,128.92 L526.54,119.90 M526.54,119.90 L526.54,101.85 M526.54,101.85 L542.17,92.82 M557.80,47.70 L574.47,46.61 M589.06,65.75 L581.67,50.77 M526.54,65.75 L517.26,79.64 M526.54,101.85 L517.26,87.96 M557.80,119.90 L574.47,120.99 M589.06,101.85 L581.67,116.83 M604.70,74.78 L616.34,68.05 M624.31,68.05 L635.96,74.78 M635.96,74.78 L635.96,92.82 M635.96,92.82 L624.31,99.55 M616.34,99.55 L604.70,92.82 M651.59,65.75 L667.22,74.78 M667.22,74.78 L667.22,92.82 M667.22,92.82 L651.59,101.85 M651.59,101.85 L635.96,92.82 M635.96,74.78 L651.59,65.75 M667.22,74.78 L682.85,65.75 M667.22,92.82 L682.85,101.85 M542.17,38.67 L542.17,27.07 M526.54,47.70 L516.49,41.90 M526.54,119.90 L516.49,125.70 M542.17,128.92 L542.17,140.52 M529.54,50.23 L529.54,63.22 M542.86,42.54 L554.11,49.03 M542.86,70.91 L554.11,64.42 M576.43,77.30 L576.43,90.30 M589.75,69.61 L601.01,76.11 M601.01,91.49 L589.75,97.99 M542.86,96.69 L554.11,103.18 M529.54,104.38 L529.54,117.37 M542.86,125.06 L554.11,118.57 M622.73,70.60 L630.55,75.12 M630.55,92.48 L622.73,97.00 M652.28,69.61 L663.53,76.11 M663.53,91.49 L652.28,97.99" fill="none" stroke="#3a3a3a" stroke-width="1.25" stroke-linecap="round"/>
<text x="579.46" y="49.88" font-size="10.0" text-anchor="middle" fill="#222">S</text>
<text x="514.48" y="87.40" font-size="10.0" text-anchor="middle" fill="#222">S</text>
<text x="579.46" y="124.92" font-size="10.0" text-anchor="middle" fill="#222">S</text>
<text x="620.33" y="69.35" font-size="10.0" text-anchor="middle" fill="#222">N</text>
<text x="620.33" y="105.45" font-size="10.0" text-anchor="middle" fill="#222">N</text>
<text x="538.28" y="25.27" font-size="10.0" text-anchor="start" fill="#222">OBu</text>
<text x="515.18" y="43.10" font-size="10.0" text-anchor="end" fill="#222">BuO</text>
<text x="515.18" y="132.90" font-size="10.0" text-anchor="end" fill="#222">BuO</text>
<text x="538.28" y="150.72" font-size="10.0" text-anchor="start" fill="#222">OBu</text>
</g>
<text x="7.2" y="14.2" font-size="21" fill="#1a1a1a">a</text>
<text x="61.7" y="180.6" font-size="17.8" text-anchor="middle" fill="#1a1a1a">TP</text>
<text x="220.1" y="180.6" font-size="17.8" text-anchor="middle" fill="#1a1a1a">TPy</text>
<text x="379.0" y="180.6" font-size="17.8" text-anchor="middle" fill="#1a1a1a">TH</text>
<text x="564.2" y="180.6" font-size="17.8" text-anchor="middle" fill="#1a1a1a">TQ</text>
<rect x="75.3" y="455" width="138.2" height="249.5" fill="#f0eefa"/>
<rect x="217.9" y="455" width="138.1" height="249.5" fill="#f0f9ed"/>
<rect x="360.3" y="455" width="137.4" height="249.5" fill="#edf4fa"/>
<rect x="501.4" y="455" width="137.5" height="249.5" fill="#f5f5f5"/>
<line x1="215.9" y1="476" x2="215.9" y2="652" stroke="#222" stroke-width="2" stroke-dasharray="6 4.6"/>
<line x1="358.2" y1="476" x2="358.2" y2="652" stroke="#222" stroke-width="2" stroke-dasharray="6 4.6"/>
<line x1="499.3" y1="476" x2="499.3" y2="652" stroke="#222" stroke-width="2" stroke-dasharray="6 4.6"/>
<text x="6.3" y="472.8" font-size="21" text-anchor="start" fill="#1a1a1a" font-weight="normal" >d</text>
<line x1="72.8" y1="462.5" x2="72.8" y2="659.5" stroke="#222" stroke-width="1.6"/>
<line x1="67.3" y1="480.9" x2="72.8" y2="480.9" stroke="#222" stroke-width="1.3"/>
<text x="63.6" y="485.9" font-size="14.2" text-anchor="end" fill="#1a1a1a" font-weight="normal" >3.0</text>
<line x1="69.6" y1="507.7" x2="72.8" y2="507.7" stroke="#222" stroke-width="1.2"/>
<line x1="67.3" y1="534.5" x2="72.8" y2="534.5" stroke="#222" stroke-width="1.3"/>
<text x="63.6" y="539.5" font-size="14.2" text-anchor="end" fill="#1a1a1a" font-weight="normal" >2.4</text>
<line x1="69.6" y1="561.3" x2="72.8" y2="561.3" stroke="#222" stroke-width="1.2"/>
<line x1="67.3" y1="588.2" x2="72.8" y2="588.2" stroke="#222" stroke-width="1.3"/>
<text x="63.6" y="593.2" font-size="14.2" text-anchor="end" fill="#1a1a1a" font-weight="normal" >1.8</text>
<line x1="69.6" y1="615.0" x2="72.8" y2="615.0" stroke="#222" stroke-width="1.2"/>
<line x1="67.3" y1="641.8" x2="72.8" y2="641.8" stroke="#222" stroke-width="1.3"/>
<text x="63.6" y="646.8" font-size="14.2" text-anchor="end" fill="#1a1a1a" font-weight="normal" >1.2</text>
<text transform="translate(30.4,560.5) rotate(-90)" font-size="16.9" text-anchor="middle" fill="#1a1a1a">Energy level (eV)</text>
<text x="141.9" y="476.9" font-size="16.6" text-anchor="middle" fill="#1a1a1a" font-weight="normal" >TP</text>
<text x="287.2" y="476.9" font-size="16.6" text-anchor="middle" fill="#1a1a1a" font-weight="normal" >TPy</text>
<text x="428.9" y="476.9" font-size="16.6" text-anchor="middle" fill="#1a1a1a" font-weight="normal" >TH</text>
<text x="572.2" y="476.9" font-size="16.6" text-anchor="middle" fill="#1a1a1a" font-weight="normal" >TQ</text>
<line x1="150.9" y1="498.9" x2="183.9" y2="498.9" stroke="#7b4fdc" stroke-width="2.2"/>
<text x="185.9" y="500.7" font-size="13.8" fill="#1a1a1a">T<tspan font-size="9.6" dy="3.1">4</tspan></text>
<line x1="150.9" y1="527.2" x2="183.9" y2="527.2" stroke="#7b4fdc" stroke-width="2.2"/>
<text x="185.9" y="529.0" font-size="13.8" fill="#1a1a1a">T<tspan font-size="9.6" dy="3.1">3</tspan></text>
<line x1="150.9" y1="543.3" x2="183.9" y2="543.3" stroke="#7b4fdc" stroke-width="2.2"/>
<text x="185.9" y="545.0999999999999" font-size="13.8" fill="#1a1a1a">T<tspan font-size="9.6" dy="3.1">2</tspan></text>
<line x1="150.9" y1="559.6" x2="183.9" y2="559.6" stroke="#7b4fdc" stroke-width="2.2"/>
<text x="185.9" y="561.4" font-size="13.8" fill="#1a1a1a">T<tspan font-size="9.6" dy="3.1">1</tspan></text>
<line x1="101.0" y1="516.9" x2="128.5" y2="516.9" stroke="#7b4fdc" stroke-width="2.2"/>
<text x="84.4" y="521.6" font-size="13.8" fill="#1a1a1a">S<tspan font-size="9.6" dy="3.1">1</tspan></text>
<path d="M133.9,516.8 Q144.6,515.8 149.4,520.5" fill="none" stroke="#7b4fdc" stroke-width="1.8"/><path d="M153.3,524.3 L147.1,522.8 L151.6,518.2 Z" fill="#7b4fdc"/>
<line x1="292.0" y1="531.7" x2="324.8" y2="531.7" stroke="#45a030" stroke-width="2.2"/>
<text x="327.6" y="537.2" font-size="13.8" fill="#1a1a1a">T<tspan font-size="9.6" dy="3.1">2</tspan></text>
<line x1="292.0" y1="568.0" x2="324.8" y2="568.0" stroke="#45a030" stroke-width="2.2"/>
<text x="327.6" y="573.5" font-size="13.8" fill="#1a1a1a">T<tspan font-size="9.6" dy="3.1">1</tspan></text>
<line x1="246.5" y1="549.9" x2="274.0" y2="549.9" stroke="#45a030" stroke-width="2.2"/>
<text x="230.5" y="554.4" font-size="13.8" fill="#1a1a1a">S<tspan font-size="9.6" dy="3.1">1</tspan></text>
<path d="M278.4,550.0 Q289.2,549.0 295.4,559.6" fill="none" stroke="#45a030" stroke-width="1.8"/><path d="M298.1,564.4 L292.6,561.2 L298.1,558.0 Z" fill="#45a030"/>
<line x1="436.4" y1="506.0" x2="469.6" y2="506.0" stroke="#3a7dc9" stroke-width="2.2"/>
<text x="470.7" y="509.1" font-size="13.8" fill="#1a1a1a">T<tspan font-size="9.6" dy="3.1">4</tspan></text>
<line x1="436.4" y1="535.0" x2="469.6" y2="535.0" stroke="#3a7dc9" stroke-width="2.2"/>
<text x="470.7" y="538.6" font-size="13.8" fill="#1a1a1a">T<tspan font-size="9.6" dy="3.1">3</tspan></text>
<line x1="436.4" y1="550.4" x2="469.6" y2="550.4" stroke="#3a7dc9" stroke-width="2.2"/>
<text x="470.7" y="554.6999999999999" font-size="13.8" fill="#1a1a1a">T<tspan font-size="9.6" dy="3.1">2</tspan></text>
<line x1="436.4" y1="579.8" x2="469.6" y2="579.8" stroke="#3a7dc9" stroke-width="2.2"/>
<text x="470.7" y="584.3" font-size="13.8" fill="#1a1a1a">T<tspan font-size="9.6" dy="3.1">1</tspan></text>
<line x1="388.1" y1="537.2" x2="415.0" y2="537.2" stroke="#3a7dc9" stroke-width="2.2"/>
<text x="370.5" y="541.7" font-size="13.8" fill="#1a1a1a">S<tspan font-size="9.6" dy="3.1">1</tspan></text>
<path d="M419.4,538.0 Q430.4,537.0 435.7,542.9" fill="none" stroke="#3a7dc9" stroke-width="1.8"/><path d="M439.4,547.0 L433.3,545.1 L438.1,540.8 Z" fill="#3a7dc9"/>
<line x1="578.8" y1="548.3" x2="611.9" y2="548.3" stroke="#7a7a7a" stroke-width="2.2"/>
<text x="613.5" y="553.8" font-size="13.8" fill="#1a1a1a">T<tspan font-size="9.6" dy="3.1">2</tspan></text>
<line x1="525.1" y1="570.5" x2="552.3" y2="570.5" stroke="#7a7a7a" stroke-width="2.2"/>
<text x="508.9" y="572.8" font-size="13.8" fill="#1a1a1a">S<tspan font-size="9.6" dy="3.1">1</tspan></text>
<line x1="579.2" y1="636.8" x2="611.3" y2="636.8" stroke="#7a7a7a" stroke-width="2.2"/>
<text x="614.2" y="641.8" font-size="13.8" fill="#1a1a1a">T<tspan font-size="9.6" dy="3.1">1</tspan></text>
<line x1="526.5" y1="636.8" x2="579.2" y2="636.8" stroke="#7a7a7a" stroke-width="1" stroke-dasharray="3 2"/>
<text x="596.0" y="631.0" font-size="13.2" text-anchor="middle" fill="#666" font-weight="bold" >Low</text>
<line x1="539.3" y1="578" x2="539.3" y2="588" stroke="#555" stroke-width="1.2" stroke-dasharray="1.3 1.3"/>
<path d="M539.3,572.8 L536.2,578.8 L542.4,578.8 Z" fill="#555"/>
<line x1="539.3" y1="615" x2="539.3" y2="630" stroke="#555" stroke-width="1.2" stroke-dasharray="1.3 1.3"/>
<path d="M539.3,636 L536.2,630 L542.4,630 Z" fill="#555"/>
<text x="545.0" y="607.8" font-size="14.2" text-anchor="middle" fill="#1a1a1a" font-weight="normal" >0.78 eV</text>
<text x="84.4" y="595.6" font-size="14.2" fill="#1a1a1a">ΔE<tspan font-size="9.8" dy="3.2">S1-T3</tspan><tspan dy="-3.2"> = 0.15 eV</tspan></text>
<text x="233.3" y="599.7" font-size="14.2" fill="#1a1a1a">ΔE<tspan font-size="9.8" dy="3.2">S1-T1</tspan><tspan dy="-3.2"> = 0.20 eV</tspan></text>
<text x="375.4" y="607.3" font-size="14.2" fill="#1a1a1a">ΔE<tspan font-size="9.8" dy="3.2">S1-T2</tspan><tspan dy="-3.2">= 0.17 eV</tspan></text>
<text x="105.6" y="619.6" font-size="14.2" fill="#1a1a1a">SOC (cm<tspan font-size="9.8" dy="-5">-1</tspan><tspan dy="5">)</tspan></text>
<text x="105.6" y="637.6" font-size="14.3" fill="#1a1a1a">S<tspan font-size="9.8" dy="4.0">1</tspan><tspan dy="-4.0">-T</tspan><tspan font-size="9.8" dy="4.0">1</tspan><tspan dy="-4.0"> : </tspan><tspan fill="#7b4fdc">0.16</tspan></text>
<text x="105.6" y="655.0500000000001" font-size="14.3" fill="#1a1a1a">S<tspan font-size="9.8" dy="4.0">1</tspan><tspan dy="-4.0">-T</tspan><tspan font-size="9.8" dy="4.0">2</tspan><tspan dy="-4.0"> : </tspan><tspan fill="#1a1a1a">0.43</tspan></text>
<text x="105.6" y="672.5" font-size="14.3" fill="#1a1a1a">S<tspan font-size="9.8" dy="4.0">1</tspan><tspan dy="-4.0">-T</tspan><tspan font-size="9.8" dy="4.0">3</tspan><tspan dy="-4.0"> : </tspan><tspan fill="#1a1a1a">0.23</tspan></text>
<text x="105.6" y="689.95" font-size="14.3" fill="#1a1a1a">S<tspan font-size="9.8" dy="4.0">0</tspan><tspan dy="-4.0">-T</tspan><tspan font-size="9.8" dy="4.0">1</tspan><tspan dy="-4.0"> : </tspan><tspan fill="#7b4fdc">0.67</tspan></text>
<text x="250.3" y="627.0" font-size="14.2" fill="#1a1a1a">SOC (cm<tspan font-size="9.8" dy="-5">-1</tspan><tspan dy="5">)</tspan></text>
<text x="250.3" y="644.4" font-size="14.3" fill="#1a1a1a">S<tspan font-size="9.8" dy="4.0">1</tspan><tspan dy="-4.0">-T</tspan><tspan font-size="9.8" dy="4.0">1</tspan><tspan dy="-4.0"> : </tspan><tspan fill="#45a030">1.38</tspan></text>
<text x="250.3" y="661.8" font-size="14.3" fill="#1a1a1a">S<tspan font-size="9.8" dy="4.0">0</tspan><tspan dy="-4.0">-T</tspan><tspan font-size="9.8" dy="4.0">1</tspan><tspan dy="-4.0"> : </tspan><tspan fill="#45a030">2.33</tspan></text>
<text x="393.4" y="630.6" font-size="14.2" fill="#1a1a1a">SOC (cm<tspan font-size="9.8" dy="-5">-1</tspan><tspan dy="5">)</tspan></text>
<text x="393.4" y="647.6" font-size="14.3" fill="#1a1a1a">S<tspan font-size="9.8" dy="4.0">1</tspan><tspan dy="-4.0">-T</tspan><tspan font-size="9.8" dy="4.0">1</tspan><tspan dy="-4.0"> : </tspan><tspan fill="#3a7dc9">0.71</tspan></text>
<text x="393.4" y="665.1" font-size="14.3" fill="#1a1a1a">S<tspan font-size="9.8" dy="4.0">1</tspan><tspan dy="-4.0">-T</tspan><tspan font-size="9.8" dy="4.0">2</tspan><tspan dy="-4.0"> : </tspan><tspan fill="#1a1a1a">0.26</tspan></text>
<text x="393.4" y="682.6" font-size="14.3" fill="#1a1a1a">S<tspan font-size="9.8" dy="4.0">1</tspan><tspan dy="-4.0">-T</tspan><tspan font-size="9.8" dy="4.0">3</tspan><tspan dy="-4.0"> : </tspan><tspan fill="#1a1a1a">0.20</tspan></text>
<text x="393.4" y="700.1" font-size="14.3" fill="#1a1a1a">S<tspan font-size="9.8" dy="4.0">0</tspan><tspan dy="-4.0">-T</tspan><tspan font-size="9.8" dy="4.0">1</tspan><tspan dy="-4.0"> : </tspan><tspan fill="#3a7dc9">2.64</tspan></text>
<text x="534.2" y="664.7" font-size="14.2" fill="#1a1a1a">SOC (cm<tspan font-size="9.8" dy="-5">-1</tspan><tspan dy="5">)</tspan></text>
<text x="534.2" y="682.0" font-size="14.3" fill="#1a1a1a">S<tspan font-size="9.8" dy="4.0">1</tspan><tspan dy="-4.0">-T</tspan><tspan font-size="9.8" dy="4.0">1</tspan><tspan dy="-4.0"> : </tspan><tspan fill="#1a1a1a">0.74</tspan></text>
<text x="534.2" y="699.7" font-size="14.3" fill="#1a1a1a">S<tspan font-size="9.8" dy="4.0">0</tspan><tspan dy="-4.0">-T</tspan><tspan font-size="9.8" dy="4.0">1</tspan><tspan dy="-4.0"> : </tspan><tspan fill="#1a1a1a">4.49</tspan></text>
</svg>
</body></html>
